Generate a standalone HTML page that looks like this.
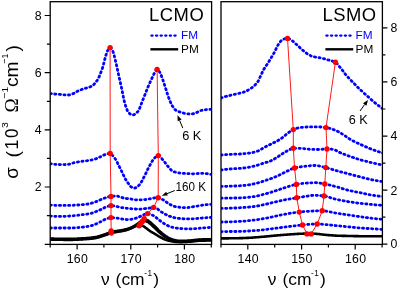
<!DOCTYPE html>
<html><head><meta charset="utf-8"><title>LCMO / LSMO optical conductivity</title>
<style>
html,body{margin:0;padding:0;background:#fff;}
body{width:399px;height:290px;overflow:hidden;font-family:"Liberation Sans",sans-serif;}
svg{display:block;will-change:transform;}
text{font-family:"Liberation Sans",sans-serif;fill:#000;}
.fm{fill:none;stroke:#0000ff;stroke-width:2.8;stroke-linecap:round;stroke-linejoin:round;stroke-dasharray:1.2 3.4;}
.pm{fill:none;stroke:#000;stroke-linecap:round;stroke-linejoin:round;}
.rl{fill:none;stroke:#ff0000;stroke-width:0.9;stroke-linejoin:round;}
.rd{fill:#ff0000;}
.ax{fill:none;stroke:#000;stroke-width:1.3;}
.tk{stroke:#000;stroke-width:1.2;fill:none;}
.tl{font-size:12.3px;letter-spacing:0.25px;}
.an{font-size:12px;}
.lg{font-size:11.8px;letter-spacing:0.1px;}
.ti{font-size:18.4px;letter-spacing:0.55px;}
.al{font-size:18px;}
.sup{font-size:9.8px;}
.xl{font-size:17.4px;}
</style></head><body>
<svg width="399" height="290" viewBox="0 0 399 290">
<rect x="0" y="0" width="399" height="290" fill="#fff"/>
<defs><clipPath id="cl"><rect x="50.2" y="1.7" width="161.39999999999998" height="242.70000000000002"/></clipPath>
<clipPath id="cr"><rect x="221.0" y="1.7" width="161.39999999999998" height="242.70000000000002"/></clipPath></defs>
<g clip-path="url(#cl)">
<polyline class="fm" points="50.2,93.5 50.7,93.6 51.2,93.6 51.7,93.7 52.2,93.8 52.7,93.8 53.2,93.9 53.7,93.9 54.2,94.0 54.7,94.0 55.2,94.1 55.7,94.1 56.2,94.1 56.7,94.1 57.2,94.2 57.7,94.2 58.2,94.2 58.7,94.3 59.2,94.3 59.7,94.4 60.2,94.4 60.7,94.5 61.2,94.5 61.7,94.6 62.2,94.6 62.7,94.7 63.2,94.7 63.7,94.8 64.2,94.8 64.7,94.8 65.2,94.9 65.7,94.9 66.2,94.9 66.7,95.0 67.2,95.0 67.7,95.0 68.2,95.0 68.7,95.0 69.2,95.0 69.7,94.9 70.2,94.8 70.7,94.6 71.2,94.5 71.7,94.3 72.2,94.0 72.7,93.8 73.2,93.6 73.7,93.4 74.2,93.2 74.7,92.9 75.2,92.6 75.7,92.3 76.2,92.0 76.7,91.7 77.2,91.4 77.7,91.1 78.2,90.9 78.7,90.7 79.2,90.5 79.7,90.3 80.2,90.1 80.7,89.9 81.2,89.7 81.7,89.5 82.2,89.3 82.7,89.1 83.2,89.0 83.7,88.8 84.2,88.7 84.7,88.5 85.2,88.4 85.7,88.2 86.2,88.1 86.7,87.9 87.2,87.7 87.7,87.6 88.2,87.4 88.7,87.3 89.2,87.1 89.7,87.0 90.2,86.8 90.7,86.6 91.2,86.4 91.7,86.2 92.2,85.9 92.7,85.5 93.2,85.1 93.7,84.7 94.2,84.1 94.7,83.6 95.2,83.0 95.7,82.4 96.2,81.7 96.7,81.0 97.2,80.3 97.7,79.4 98.2,78.6 98.7,77.6 99.2,76.6 99.7,75.4 100.2,74.1 100.7,72.8 101.2,71.5 101.7,70.2 102.2,68.9 102.7,67.4 103.2,65.6 103.7,63.7 104.2,61.7 104.7,59.6 105.2,57.7 105.7,55.9 106.2,54.4 106.7,53.0 107.2,51.6 107.7,50.5 108.2,49.7 108.7,48.9 109.2,48.2 109.7,47.7 110.2,47.6 110.7,47.9 111.2,48.4 111.7,49.1 112.2,50.0 112.7,50.9 113.2,52.1 113.7,53.7 114.2,55.6 114.7,57.6 115.2,59.7 115.7,61.8 116.2,63.8 116.7,66.0 117.2,68.3 117.7,70.6 118.2,72.9 118.7,75.2 119.2,77.4 119.7,79.7 120.2,81.9 120.7,84.1 121.2,86.3 121.7,88.6 122.2,91.0 122.7,93.6 123.2,96.2 123.7,98.7 124.2,100.8 124.7,102.8 125.2,104.5 125.7,106.1 126.2,107.5 126.7,108.9 127.2,110.2 127.7,111.3 128.2,112.1 128.7,112.7 129.2,113.2 129.7,113.6 130.2,114.0 130.7,114.4 131.2,114.6 131.7,114.8 132.2,115.0 132.7,115.0 133.2,114.9 133.7,114.8 134.2,114.6 134.7,114.3 135.2,114.0 135.7,113.6 136.2,113.1 136.7,112.7 137.2,112.2 137.7,111.7 138.2,111.1 138.7,110.3 139.2,109.2 139.7,108.1 140.2,106.9 140.7,105.6 141.2,104.2 141.7,102.9 142.2,101.5 142.7,100.3 143.2,99.1 143.7,97.8 144.2,96.6 144.7,95.3 145.2,94.0 145.7,92.7 146.2,91.4 146.7,90.1 147.2,88.9 147.7,87.7 148.2,86.5 148.7,85.4 149.2,84.2 149.7,83.1 150.2,82.0 150.7,80.9 151.2,79.8 151.7,78.7 152.2,77.7 152.7,76.6 153.2,75.5 153.7,74.5 154.2,73.4 154.7,72.5 155.2,71.7 155.7,70.9 156.2,70.1 156.7,69.6 157.2,69.4 157.7,69.6 158.2,70.1 158.7,70.7 159.2,71.4 159.7,72.1 160.2,73.1 160.7,74.2 161.2,75.4 161.7,76.6 162.2,78.0 162.7,79.4 163.2,80.9 163.7,82.4 164.2,84.0 164.7,85.6 165.2,87.1 165.7,88.6 166.2,90.1 166.7,91.7 167.2,93.3 167.7,94.8 168.2,96.3 168.7,97.7 169.2,99.0 169.7,100.3 170.2,101.5 170.7,102.7 171.2,103.8 171.7,104.8 172.2,105.7 172.7,106.5 173.2,107.2 173.7,107.9 174.2,108.6 174.7,109.2 175.2,109.7 175.7,110.1 176.2,110.4 176.7,110.7 177.2,111.0 177.7,111.2 178.2,111.4 178.7,111.6 179.2,111.8 179.7,111.9 180.2,112.1 180.7,112.3 181.2,112.4 181.7,112.6 182.2,112.7 182.7,112.9 183.2,113.0 183.7,113.1 184.2,113.3 184.7,113.3 185.2,113.4 185.7,113.5 186.2,113.6 186.7,113.7 187.2,113.7 187.7,113.8 188.2,113.9 188.7,113.9 189.2,114.0 189.7,114.0 190.2,114.0 190.7,114.0 191.2,114.0 191.7,113.9 192.2,113.9 192.7,113.8 193.2,113.7 193.7,113.7 194.2,113.6 194.7,113.5 195.2,113.4 195.7,113.2 196.2,112.9 196.7,112.6 197.2,112.3 197.7,112.0 198.2,111.6 198.7,111.4 199.2,111.1 199.7,110.9 200.2,110.8 200.7,110.6 201.2,110.5 201.7,110.4 202.2,110.2 202.7,110.1 203.2,110.0 203.7,109.9 204.2,109.9 204.7,109.8 205.2,109.8 205.7,109.7 206.2,109.6 206.7,109.6 207.2,109.6 207.7,109.5 208.2,109.5 208.7,109.4 209.2,109.4 209.7,109.4 210.2,109.4 210.7,109.3 211.2,109.3 211.6,109.3"/>
<polyline class="fm" points="50.2,163.6 50.7,163.7 51.2,163.8 51.7,163.9 52.2,164.0 52.7,164.0 53.2,164.1 53.7,164.2 54.2,164.2 54.7,164.3 55.2,164.3 55.7,164.4 56.2,164.4 56.7,164.4 57.2,164.5 57.7,164.5 58.2,164.5 58.7,164.5 59.2,164.5 59.7,164.6 60.2,164.6 60.7,164.6 61.2,164.6 61.7,164.6 62.2,164.6 62.7,164.6 63.2,164.6 63.7,164.6 64.2,164.6 64.7,164.6 65.2,164.5 65.7,164.5 66.2,164.5 66.7,164.5 67.2,164.4 67.7,164.4 68.2,164.4 68.7,164.3 69.2,164.2 69.7,164.1 70.2,163.9 70.7,163.7 71.2,163.6 71.7,163.4 72.2,163.2 72.7,163.1 73.2,163.0 73.7,162.8 74.2,162.7 74.7,162.6 75.2,162.5 75.7,162.4 76.2,162.3 76.7,162.2 77.2,162.1 77.7,162.0 78.2,161.9 78.7,161.8 79.2,161.7 79.7,161.6 80.2,161.6 80.7,161.5 81.2,161.4 81.7,161.4 82.2,161.3 82.7,161.2 83.2,161.2 83.7,161.1 84.2,161.1 84.7,161.0 85.2,161.0 85.7,160.9 86.2,160.8 86.7,160.8 87.2,160.7 87.7,160.6 88.2,160.6 88.7,160.5 89.2,160.4 89.7,160.3 90.2,160.2 90.7,160.1 91.2,160.0 91.7,159.9 92.2,159.8 92.7,159.7 93.2,159.6 93.7,159.5 94.2,159.3 94.7,159.2 95.2,159.0 95.7,158.9 96.2,158.7 96.7,158.5 97.2,158.3 97.7,158.0 98.2,157.8 98.7,157.6 99.2,157.4 99.7,157.1 100.2,156.9 100.7,156.7 101.2,156.4 101.7,156.1 102.2,155.9 102.7,155.6 103.2,155.4 103.7,155.1 104.2,154.9 104.7,154.7 105.2,154.5 105.7,154.3 106.2,154.1 106.7,153.9 107.2,153.8 107.7,153.7 108.2,153.6 108.7,153.5 109.2,153.4 109.7,153.4 110.2,153.4 110.7,153.6 111.2,154.0 111.7,154.5 112.2,155.1 112.7,155.7 113.2,156.2 113.7,156.8 114.2,157.4 114.7,158.1 115.2,158.8 115.7,159.5 116.2,160.3 116.7,161.3 117.2,162.3 117.7,163.4 118.2,164.4 118.7,165.4 119.2,166.4 119.7,167.4 120.2,168.4 120.7,169.4 121.2,170.4 121.7,171.4 122.2,172.5 122.7,173.5 123.2,174.6 123.7,175.6 124.2,176.6 124.7,177.6 125.2,178.6 125.7,179.5 126.2,180.3 126.7,181.1 127.2,181.9 127.7,182.6 128.2,183.3 128.7,184.0 129.2,184.7 129.7,185.4 130.2,186.1 130.7,186.6 131.2,186.9 131.7,187.3 132.2,187.6 132.7,187.9 133.2,188.1 133.7,188.2 134.2,188.2 134.7,188.1 135.2,187.9 135.7,187.7 136.2,187.5 136.7,187.2 137.2,186.9 137.7,186.5 138.2,186.1 138.7,185.5 139.2,185.0 139.7,184.4 140.2,183.7 140.7,183.0 141.2,182.2 141.7,181.4 142.2,180.5 142.7,179.5 143.2,178.5 143.7,177.5 144.2,176.6 144.7,175.6 145.2,174.6 145.7,173.6 146.2,172.6 146.7,171.6 147.2,170.5 147.7,169.5 148.2,168.4 148.7,167.4 149.2,166.4 149.7,165.5 150.2,164.7 150.7,163.8 151.2,162.9 151.7,162.1 152.2,161.2 152.7,160.4 153.2,159.7 153.7,159.0 154.2,158.4 154.7,157.9 155.2,157.4 155.7,157.0 156.2,156.6 156.7,156.2 157.2,155.9 157.7,155.7 158.2,155.6 158.7,155.7 159.2,155.9 159.7,156.2 160.2,156.7 160.7,157.2 161.2,157.8 161.7,158.4 162.2,159.1 162.7,159.7 163.2,160.2 163.7,160.8 164.2,161.4 164.7,162.1 165.2,162.8 165.7,163.5 166.2,164.1 166.7,164.8 167.2,165.4 167.7,166.1 168.2,166.6 168.7,167.2 169.2,167.8 169.7,168.4 170.2,169.0 170.7,169.6 171.2,170.1 171.7,170.5 172.2,171.0 172.7,171.3 173.2,171.5 173.7,171.7 174.2,171.8 174.7,172.0 175.2,172.1 175.7,172.2 176.2,172.4 176.7,172.5 177.2,172.6 177.7,172.7 178.2,172.8 178.7,172.9 179.2,172.9 179.7,173.0 180.2,173.1 180.7,173.1 181.2,173.2 181.7,173.2 182.2,173.3 182.7,173.3 183.2,173.4 183.7,173.4 184.2,173.4 184.7,173.5 185.2,173.5 185.7,173.5 186.2,173.6 186.7,173.6 187.2,173.6 187.7,173.7 188.2,173.7 188.7,173.7 189.2,173.7 189.7,173.7 190.2,173.8 190.7,173.8 191.2,173.8 191.7,173.8 192.2,173.8 192.7,173.8 193.2,173.8 193.7,173.8 194.2,173.8 194.7,173.8 195.2,173.7 195.7,173.7 196.2,173.7 196.7,173.6 197.2,173.6 197.7,173.5 198.2,173.5 198.7,173.5 199.2,173.4 199.7,173.4 200.2,173.4 200.7,173.3 201.2,173.3 201.7,173.3 202.2,173.3 202.7,173.3 203.2,173.3 203.7,173.3 204.2,173.4 204.7,173.4 205.2,173.5 205.7,173.5 206.2,173.6 206.7,173.7 207.2,173.7 207.7,173.8 208.2,173.9 208.7,174.0 209.2,174.1 209.7,174.2 210.2,174.3 210.7,174.4 211.2,174.5 211.6,174.6"/>
<polyline class="fm" points="50.2,205.0 50.7,205.0 51.2,205.1 51.7,205.1 52.2,205.1 52.7,205.2 53.2,205.2 53.7,205.2 54.2,205.3 54.7,205.3 55.2,205.3 55.7,205.4 56.2,205.4 56.7,205.4 57.2,205.4 57.7,205.4 58.2,205.4 58.7,205.4 59.2,205.4 59.7,205.4 60.2,205.4 60.7,205.4 61.2,205.4 61.7,205.4 62.2,205.4 62.7,205.4 63.2,205.4 63.7,205.4 64.2,205.4 64.7,205.4 65.2,205.4 65.7,205.4 66.2,205.4 66.7,205.4 67.2,205.4 67.7,205.4 68.2,205.4 68.7,205.4 69.2,205.4 69.7,205.4 70.2,205.4 70.7,205.4 71.2,205.3 71.7,205.3 72.2,205.3 72.7,205.3 73.2,205.3 73.7,205.2 74.2,205.2 74.7,205.2 75.2,205.2 75.7,205.1 76.2,205.1 76.7,205.1 77.2,205.0 77.7,205.0 78.2,205.0 78.7,205.0 79.2,204.9 79.7,204.9 80.2,204.9 80.7,204.8 81.2,204.8 81.7,204.7 82.2,204.7 82.7,204.6 83.2,204.6 83.7,204.5 84.2,204.5 84.7,204.4 85.2,204.4 85.7,204.3 86.2,204.3 86.7,204.2 87.2,204.1 87.7,204.0 88.2,204.0 88.7,203.9 89.2,203.8 89.7,203.7 90.2,203.5 90.7,203.4 91.2,203.3 91.7,203.1 92.2,203.0 92.7,202.8 93.2,202.7 93.7,202.5 94.2,202.3 94.7,202.2 95.2,202.0 95.7,201.8 96.2,201.6 96.7,201.4 97.2,201.2 97.7,201.0 98.2,200.8 98.7,200.5 99.2,200.3 99.7,200.1 100.2,199.9 100.7,199.7 101.2,199.5 101.7,199.3 102.2,199.1 102.7,198.9 103.2,198.6 103.7,198.4 104.2,198.2 104.7,198.0 105.2,197.9 105.7,197.7 106.2,197.5 106.7,197.4 107.2,197.2 107.7,197.1 108.2,197.0 108.7,196.8 109.2,196.7 109.7,196.6 110.2,196.5 110.7,196.4 111.2,196.4 111.7,196.3 112.2,196.3 112.7,196.2 113.2,196.2 113.7,196.1 114.2,196.1 114.7,196.0 115.2,196.0 115.7,196.0 116.2,196.0 116.7,196.0 117.2,196.1 117.7,196.2 118.2,196.3 118.7,196.5 119.2,196.6 119.7,196.7 120.2,196.9 120.7,197.0 121.2,197.2 121.7,197.4 122.2,197.6 122.7,197.7 123.2,197.9 123.7,198.1 124.2,198.2 124.7,198.4 125.2,198.4 125.7,198.5 126.2,198.5 126.7,198.6 127.2,198.6 127.7,198.6 128.2,198.7 128.7,198.7 129.2,198.7 129.7,198.8 130.2,198.8 130.7,198.9 131.2,199.0 131.7,199.2 132.2,199.3 132.7,199.4 133.2,199.6 133.7,199.7 134.2,199.7 134.7,199.8 135.2,199.8 135.7,199.8 136.2,199.8 136.7,199.8 137.2,199.8 137.7,199.8 138.2,199.8 138.7,199.8 139.2,199.8 139.7,199.8 140.2,199.8 140.7,199.8 141.2,199.8 141.7,199.8 142.2,199.8 142.7,199.7 143.2,199.7 143.7,199.7 144.2,199.6 144.7,199.6 145.2,199.6 145.7,199.5 146.2,199.5 146.7,199.4 147.2,199.3 147.7,199.2 148.2,199.1 148.7,199.0 149.2,198.9 149.7,198.9 150.2,198.8 150.7,198.7 151.2,198.5 151.7,198.4 152.2,198.3 152.7,198.2 153.2,198.1 153.7,198.0 154.2,198.0 154.7,197.9 155.2,197.9 155.7,197.8 156.2,197.8 156.7,197.8 157.2,197.7 157.7,197.7 158.2,197.7 158.7,197.7 159.2,197.8 159.7,198.0 160.2,198.2 160.7,198.4 161.2,198.7 161.7,199.0 162.2,199.3 162.7,199.6 163.2,199.9 163.7,200.2 164.2,200.5 164.7,200.8 165.2,201.2 165.7,201.6 166.2,202.0 166.7,202.3 167.2,202.7 167.7,203.1 168.2,203.5 168.7,203.8 169.2,204.1 169.7,204.3 170.2,204.6 170.7,204.8 171.2,205.1 171.7,205.3 172.2,205.5 172.7,205.7 173.2,205.9 173.7,206.1 174.2,206.3 174.7,206.4 175.2,206.6 175.7,206.7 176.2,206.8 176.7,206.9 177.2,206.9 177.7,207.0 178.2,207.1 178.7,207.2 179.2,207.2 179.7,207.3 180.2,207.4 180.7,207.4 181.2,207.5 181.7,207.5 182.2,207.6 182.7,207.6 183.2,207.6 183.7,207.7 184.2,207.7 184.7,207.7 185.2,207.7 185.7,207.7 186.2,207.7 186.7,207.7 187.2,207.6 187.7,207.6 188.2,207.5 188.7,207.5 189.2,207.4 189.7,207.3 190.2,207.2 190.7,207.1 191.2,207.1 191.7,207.0 192.2,206.9 192.7,206.8 193.2,206.7 193.7,206.6 194.2,206.5 194.7,206.5 195.2,206.4 195.7,206.3 196.2,206.2 196.7,206.1 197.2,206.1 197.7,206.0 198.2,205.9 198.7,205.8 199.2,205.7 199.7,205.6 200.2,205.5 200.7,205.4 201.2,205.4 201.7,205.3 202.2,205.2 202.7,205.1 203.2,205.1 203.7,205.0 204.2,204.9 204.7,204.9 205.2,204.8 205.7,204.8 206.2,204.7 206.7,204.6 207.2,204.6 207.7,204.5 208.2,204.5 208.7,204.4 209.2,204.4 209.7,204.3 210.2,204.3 210.7,204.3 211.2,204.2 211.6,204.2"/>
<polyline class="fm" points="50.2,216.0 50.7,216.0 51.2,216.1 51.7,216.1 52.2,216.1 52.7,216.2 53.2,216.2 53.7,216.2 54.2,216.3 54.7,216.3 55.2,216.3 55.7,216.3 56.2,216.3 56.7,216.4 57.2,216.4 57.7,216.4 58.2,216.4 58.7,216.4 59.2,216.4 59.7,216.4 60.2,216.4 60.7,216.4 61.2,216.4 61.7,216.4 62.2,216.4 62.7,216.4 63.2,216.3 63.7,216.3 64.2,216.3 64.7,216.3 65.2,216.3 65.7,216.2 66.2,216.2 66.7,216.2 67.2,216.2 67.7,216.1 68.2,216.1 68.7,216.1 69.2,216.0 69.7,216.0 70.2,216.0 70.7,216.0 71.2,215.9 71.7,215.9 72.2,215.8 72.7,215.8 73.2,215.8 73.7,215.7 74.2,215.7 74.7,215.6 75.2,215.6 75.7,215.5 76.2,215.4 76.7,215.4 77.2,215.3 77.7,215.3 78.2,215.2 78.7,215.2 79.2,215.1 79.7,215.0 80.2,215.0 80.7,214.9 81.2,214.9 81.7,214.8 82.2,214.7 82.7,214.7 83.2,214.6 83.7,214.6 84.2,214.5 84.7,214.4 85.2,214.4 85.7,214.3 86.2,214.2 86.7,214.2 87.2,214.1 87.7,214.0 88.2,213.9 88.7,213.8 89.2,213.8 89.7,213.7 90.2,213.6 90.7,213.4 91.2,213.3 91.7,213.2 92.2,213.0 92.7,212.8 93.2,212.7 93.7,212.5 94.2,212.3 94.7,212.1 95.2,211.9 95.7,211.7 96.2,211.5 96.7,211.3 97.2,211.1 97.7,210.9 98.2,210.7 98.7,210.5 99.2,210.3 99.7,210.1 100.2,209.8 100.7,209.6 101.2,209.4 101.7,209.1 102.2,208.9 102.7,208.7 103.2,208.4 103.7,208.1 104.2,207.8 104.7,207.6 105.2,207.3 105.7,207.1 106.2,206.9 106.7,206.7 107.2,206.5 107.7,206.4 108.2,206.2 108.7,206.0 109.2,205.9 109.7,205.7 110.2,205.7 110.7,205.6 111.2,205.6 111.7,205.6 112.2,205.7 112.7,205.7 113.2,205.8 113.7,205.9 114.2,206.0 114.7,206.1 115.2,206.2 115.7,206.3 116.2,206.4 116.7,206.5 117.2,206.6 117.7,206.7 118.2,206.8 118.7,206.9 119.2,207.1 119.7,207.2 120.2,207.3 120.7,207.4 121.2,207.5 121.7,207.6 122.2,207.6 122.7,207.7 123.2,207.8 123.7,207.9 124.2,207.9 124.7,208.0 125.2,208.1 125.7,208.1 126.2,208.2 126.7,208.3 127.2,208.3 127.7,208.4 128.2,208.4 128.7,208.5 129.2,208.5 129.7,208.6 130.2,208.6 130.7,208.7 131.2,208.7 131.7,208.8 132.2,208.8 132.7,208.8 133.2,208.9 133.7,208.9 134.2,209.0 134.7,209.0 135.2,209.0 135.7,209.0 136.2,209.1 136.7,209.1 137.2,209.1 137.7,209.1 138.2,209.2 138.7,209.2 139.2,209.2 139.7,209.2 140.2,209.2 140.7,209.2 141.2,209.1 141.7,209.1 142.2,209.0 142.7,208.9 143.2,208.9 143.7,208.8 144.2,208.7 144.7,208.6 145.2,208.6 145.7,208.5 146.2,208.5 146.7,208.4 147.2,208.3 147.7,208.3 148.2,208.2 148.7,208.2 149.2,208.1 149.7,208.0 150.2,208.0 150.7,207.9 151.2,207.8 151.7,207.7 152.2,207.6 152.7,207.5 153.2,207.4 153.7,207.4 154.2,207.5 154.7,207.6 155.2,207.8 155.7,208.0 156.2,208.2 156.7,208.5 157.2,208.7 157.7,209.0 158.2,209.5 158.7,209.9 159.2,210.4 159.7,210.8 160.2,211.1 160.7,211.5 161.2,211.8 161.7,212.1 162.2,212.4 162.7,212.7 163.2,213.0 163.7,213.3 164.2,213.6 164.7,213.9 165.2,214.2 165.7,214.5 166.2,214.7 166.7,215.0 167.2,215.2 167.7,215.5 168.2,215.7 168.7,215.9 169.2,216.1 169.7,216.3 170.2,216.4 170.7,216.6 171.2,216.8 171.7,216.9 172.2,217.1 172.7,217.2 173.2,217.3 173.7,217.5 174.2,217.6 174.7,217.7 175.2,217.8 175.7,217.9 176.2,218.0 176.7,218.1 177.2,218.2 177.7,218.3 178.2,218.3 178.7,218.4 179.2,218.4 179.7,218.5 180.2,218.5 180.7,218.6 181.2,218.6 181.7,218.7 182.2,218.7 182.7,218.7 183.2,218.8 183.7,218.8 184.2,218.8 184.7,218.9 185.2,218.9 185.7,218.9 186.2,218.9 186.7,218.9 187.2,218.9 187.7,218.9 188.2,218.9 188.7,218.9 189.2,218.9 189.7,218.9 190.2,218.9 190.7,218.9 191.2,218.8 191.7,218.8 192.2,218.8 192.7,218.8 193.2,218.8 193.7,218.8 194.2,218.7 194.7,218.7 195.2,218.7 195.7,218.6 196.2,218.6 196.7,218.5 197.2,218.5 197.7,218.4 198.2,218.4 198.7,218.3 199.2,218.3 199.7,218.2 200.2,218.2 200.7,218.1 201.2,218.1 201.7,218.1 202.2,218.0 202.7,218.0 203.2,218.0 203.7,217.9 204.2,217.9 204.7,217.9 205.2,217.8 205.7,217.8 206.2,217.7 206.7,217.7 207.2,217.7 207.7,217.6 208.2,217.6 208.7,217.6 209.2,217.5 209.7,217.5 210.2,217.5 210.7,217.5 211.2,217.4 211.6,217.4"/>
<polyline class="fm" points="50.2,228.0 50.7,228.0 51.2,228.0 51.7,228.0 52.2,228.0 52.7,228.0 53.2,228.0 53.7,228.0 54.2,228.0 54.7,228.0 55.2,228.0 55.7,228.0 56.2,228.0 56.7,228.0 57.2,228.0 57.7,228.0 58.2,228.0 58.7,228.0 59.2,228.0 59.7,228.0 60.2,228.0 60.7,228.0 61.2,228.0 61.7,228.0 62.2,228.0 62.7,228.0 63.2,228.0 63.7,228.0 64.2,228.0 64.7,228.0 65.2,228.0 65.7,228.0 66.2,228.0 66.7,228.0 67.2,228.0 67.7,228.0 68.2,228.0 68.7,228.0 69.2,228.0 69.7,228.0 70.2,228.0 70.7,228.0 71.2,228.0 71.7,228.0 72.2,228.0 72.7,227.9 73.2,227.9 73.7,227.9 74.2,227.9 74.7,227.8 75.2,227.8 75.7,227.8 76.2,227.7 76.7,227.7 77.2,227.6 77.7,227.6 78.2,227.6 78.7,227.5 79.2,227.5 79.7,227.4 80.2,227.4 80.7,227.3 81.2,227.3 81.7,227.2 82.2,227.2 82.7,227.1 83.2,227.1 83.7,227.0 84.2,227.0 84.7,226.9 85.2,226.8 85.7,226.8 86.2,226.7 86.7,226.6 87.2,226.5 87.7,226.4 88.2,226.3 88.7,226.3 89.2,226.2 89.7,226.1 90.2,226.0 90.7,225.8 91.2,225.7 91.7,225.6 92.2,225.4 92.7,225.3 93.2,225.1 93.7,224.9 94.2,224.7 94.7,224.5 95.2,224.3 95.7,224.1 96.2,223.9 96.7,223.7 97.2,223.5 97.7,223.2 98.2,223.0 98.7,222.7 99.2,222.5 99.7,222.2 100.2,221.9 100.7,221.7 101.2,221.4 101.7,221.2 102.2,220.9 102.7,220.6 103.2,220.4 103.7,220.1 104.2,219.8 104.7,219.6 105.2,219.3 105.7,219.1 106.2,218.9 106.7,218.7 107.2,218.5 107.7,218.4 108.2,218.2 108.7,218.0 109.2,217.9 109.7,217.7 110.2,217.7 110.7,217.6 111.2,217.6 111.7,217.6 112.2,217.6 112.7,217.7 113.2,217.7 113.7,217.8 114.2,217.8 114.7,217.9 115.2,217.9 115.7,218.0 116.2,218.0 116.7,218.1 117.2,218.2 117.7,218.2 118.2,218.3 118.7,218.4 119.2,218.5 119.7,218.6 120.2,218.7 120.7,218.8 121.2,218.9 121.7,219.0 122.2,219.0 122.7,219.1 123.2,219.2 123.7,219.2 124.2,219.3 124.7,219.4 125.2,219.4 125.7,219.5 126.2,219.5 126.7,219.6 127.2,219.6 127.7,219.6 128.2,219.6 128.7,219.6 129.2,219.6 129.7,219.5 130.2,219.4 130.7,219.4 131.2,219.3 131.7,219.2 132.2,219.1 132.7,219.1 133.2,219.0 133.7,218.9 134.2,218.7 134.7,218.6 135.2,218.4 135.7,218.3 136.2,218.1 136.7,217.9 137.2,217.7 137.7,217.5 138.2,217.3 138.7,217.1 139.2,216.9 139.7,216.6 140.2,216.4 140.7,216.1 141.2,215.9 141.7,215.6 142.2,215.4 142.7,215.1 143.2,214.9 143.7,214.7 144.2,214.5 144.7,214.3 145.2,214.2 145.7,214.0 146.2,213.8 146.7,213.7 147.2,213.6 147.7,213.6 148.2,213.6 148.7,213.7 149.2,213.9 149.7,214.0 150.2,214.2 150.7,214.4 151.2,214.6 151.7,214.8 152.2,215.0 152.7,215.3 153.2,215.5 153.7,215.8 154.2,216.1 154.7,216.5 155.2,216.8 155.7,217.2 156.2,217.6 156.7,218.0 157.2,218.4 157.7,218.9 158.2,219.3 158.7,219.7 159.2,220.1 159.7,220.5 160.2,220.8 160.7,221.2 161.2,221.6 161.7,221.9 162.2,222.3 162.7,222.6 163.2,223.0 163.7,223.3 164.2,223.7 164.7,224.0 165.2,224.3 165.7,224.5 166.2,224.8 166.7,225.1 167.2,225.3 167.7,225.6 168.2,225.8 168.7,226.0 169.2,226.2 169.7,226.4 170.2,226.6 170.7,226.8 171.2,227.0 171.7,227.1 172.2,227.2 172.7,227.4 173.2,227.5 173.7,227.6 174.2,227.7 174.7,227.8 175.2,227.9 175.7,228.0 176.2,228.1 176.7,228.1 177.2,228.2 177.7,228.3 178.2,228.3 178.7,228.4 179.2,228.4 179.7,228.5 180.2,228.5 180.7,228.5 181.2,228.6 181.7,228.6 182.2,228.6 182.7,228.7 183.2,228.7 183.7,228.7 184.2,228.7 184.7,228.8 185.2,228.8 185.7,228.8 186.2,228.8 186.7,228.8 187.2,228.9 187.7,228.9 188.2,228.9 188.7,228.9 189.2,228.9 189.7,228.9 190.2,228.9 190.7,228.9 191.2,228.9 191.7,228.9 192.2,228.8 192.7,228.8 193.2,228.8 193.7,228.7 194.2,228.7 194.7,228.7 195.2,228.6 195.7,228.6 196.2,228.5 196.7,228.5 197.2,228.4 197.7,228.4 198.2,228.3 198.7,228.3 199.2,228.3 199.7,228.2 200.2,228.2 200.7,228.1 201.2,228.1 201.7,228.1 202.2,228.0 202.7,228.0 203.2,228.0 203.7,227.9 204.2,227.9 204.7,227.8 205.2,227.8 205.7,227.8 206.2,227.7 206.7,227.7 207.2,227.7 207.7,227.6 208.2,227.6 208.7,227.5 209.2,227.5 209.7,227.5 210.2,227.4 210.7,227.4 211.2,227.3 211.6,227.3"/>
<polyline class="pm" stroke-width="2.6" points="50.2,238.5 50.7,238.5 51.2,238.5 51.7,238.6 52.2,238.6 52.7,238.6 53.2,238.6 53.7,238.6 54.2,238.7 54.7,238.7 55.2,238.7 55.7,238.7 56.2,238.7 56.7,238.7 57.2,238.7 57.7,238.8 58.2,238.8 58.7,238.8 59.2,238.8 59.7,238.8 60.2,238.8 60.7,238.8 61.2,238.8 61.7,238.8 62.2,238.8 62.7,238.8 63.2,238.8 63.7,238.9 64.2,238.9 64.7,238.9 65.2,238.9 65.7,238.9 66.2,238.9 66.7,238.9 67.2,238.9 67.7,238.9 68.2,238.9 68.7,238.9 69.2,238.9 69.7,238.9 70.2,238.9 70.7,238.9 71.2,238.9 71.7,238.9 72.2,238.9 72.7,238.9 73.2,238.8 73.7,238.8 74.2,238.8 74.7,238.8 75.2,238.8 75.7,238.7 76.2,238.7 76.7,238.7 77.2,238.7 77.7,238.6 78.2,238.6 78.7,238.6 79.2,238.5 79.7,238.5 80.2,238.5 80.7,238.5 81.2,238.4 81.7,238.4 82.2,238.4 82.7,238.4 83.2,238.3 83.7,238.3 84.2,238.3 84.7,238.2 85.2,238.2 85.7,238.2 86.2,238.1 86.7,238.1 87.2,238.0 87.7,238.0 88.2,238.0 88.7,237.9 89.2,237.9 89.7,237.8 90.2,237.8 90.7,237.7 91.2,237.7 91.7,237.6 92.2,237.6 92.7,237.5 93.2,237.4 93.7,237.4 94.2,237.3 94.7,237.2 95.2,237.1 95.7,237.1 96.2,237.0 96.7,236.9 97.2,236.7 97.7,236.6 98.2,236.5 98.7,236.3 99.2,236.2 99.7,236.0 100.2,235.9 100.7,235.7 101.2,235.6 101.7,235.4 102.2,235.2 102.7,235.1 103.2,234.9 103.7,234.7 104.2,234.6 104.7,234.4 105.2,234.2 105.7,234.0 106.2,233.9 106.7,233.7 107.2,233.5 107.7,233.3 108.2,233.1 108.7,232.9 109.2,232.7 109.7,232.5 110.2,232.3 110.7,232.1 111.2,231.9 111.7,231.8 112.2,231.7 112.7,231.6 113.2,231.5 113.7,231.5 114.2,231.4 114.7,231.3 115.2,231.2 115.7,231.1 116.2,231.1 116.7,231.0 117.2,230.9 117.7,230.8 118.2,230.8 118.7,230.7 119.2,230.6 119.7,230.5 120.2,230.5 120.7,230.4 121.2,230.3 121.7,230.2 122.2,230.1 122.7,230.0 123.2,229.9 123.7,229.8 124.2,229.7 124.7,229.6 125.2,229.5 125.7,229.3 126.2,229.2 126.7,229.1 127.2,228.9 127.7,228.8 128.2,228.6 128.7,228.5 129.2,228.3 129.7,228.1 130.2,227.9 130.7,227.7 131.2,227.5 131.7,227.3 132.2,227.0 132.7,226.8 133.2,226.5 133.7,226.2 134.2,226.0 134.7,225.7 135.2,225.4 135.7,225.1 136.2,224.7 136.7,224.4 137.2,224.1 137.7,223.7 138.2,223.3 138.7,223.0 139.2,222.6 139.7,222.2 140.2,221.8 140.7,221.4 141.2,221.0 141.7,220.6 142.2,220.2 142.7,219.9 143.2,219.8 143.7,219.6 144.2,219.6 144.7,219.5 145.2,219.5 145.7,219.6 146.2,219.7 146.7,219.9 147.2,220.1 147.7,220.3 148.2,220.6 148.7,221.0 149.2,221.4 149.7,221.8 150.2,222.2 150.7,222.6 151.2,223.0 151.7,223.4 152.2,223.9 152.7,224.3 153.2,224.8 153.7,225.3 154.2,225.7 154.7,226.2 155.2,226.7 155.7,227.2 156.2,227.7 156.7,228.2 157.2,228.7 157.7,229.2 158.2,229.8 158.7,230.3 159.2,230.8 159.7,231.2 160.2,231.7 160.7,232.1 161.2,232.5 161.7,233.0 162.2,233.4 162.7,233.8 163.2,234.2 163.7,234.6 164.2,234.9 164.7,235.3 165.2,235.6 165.7,236.0 166.2,236.3 166.7,236.6 167.2,237.0 167.7,237.3 168.2,237.6 168.7,237.9 169.2,238.1 169.7,238.4 170.2,238.6 170.7,238.8 171.2,239.0 171.7,239.2 172.2,239.4 172.7,239.6 173.2,239.7 173.7,239.9 174.2,240.0 174.7,240.1 175.2,240.2 175.7,240.3 176.2,240.4 176.7,240.5 177.2,240.6 177.7,240.7 178.2,240.8 178.7,240.8 179.2,240.9 179.7,240.9 180.2,240.9 180.7,240.9 181.2,240.9 181.7,240.9 182.2,240.9 182.7,240.9 183.2,240.8 183.7,240.8 184.2,240.8 184.7,240.8 185.2,240.8 185.7,240.7 186.2,240.7 186.7,240.7 187.2,240.7 187.7,240.6 188.2,240.6 188.7,240.6 189.2,240.5 189.7,240.5 190.2,240.5 190.7,240.5 191.2,240.4 191.7,240.4 192.2,240.3 192.7,240.3 193.2,240.2 193.7,240.1 194.2,240.1 194.7,240.0 195.2,239.9 195.7,239.9 196.2,239.8 196.7,239.8 197.2,239.7 197.7,239.7 198.2,239.6 198.7,239.6 199.2,239.5 199.7,239.5 200.2,239.5 200.7,239.5 201.2,239.5 201.7,239.5 202.2,239.4 202.7,239.4 203.2,239.4 203.7,239.4 204.2,239.4 204.7,239.4 205.2,239.4 205.7,239.4 206.2,239.3 206.7,239.3 207.2,239.3 207.7,239.3 208.2,239.3 208.7,239.3 209.2,239.3 209.7,239.3 210.2,239.3 210.7,239.3 211.2,239.3 211.6,239.3"/>
<polyline class="pm" stroke-width="2.6" points="50.2,239.0 50.7,239.0 51.2,239.0 51.7,239.1 52.2,239.1 52.7,239.1 53.2,239.1 53.7,239.1 54.2,239.2 54.7,239.2 55.2,239.2 55.7,239.2 56.2,239.2 56.7,239.2 57.2,239.2 57.7,239.3 58.2,239.3 58.7,239.3 59.2,239.3 59.7,239.3 60.2,239.3 60.7,239.3 61.2,239.3 61.7,239.3 62.2,239.3 62.7,239.3 63.2,239.3 63.7,239.4 64.2,239.4 64.7,239.4 65.2,239.4 65.7,239.4 66.2,239.4 66.7,239.4 67.2,239.4 67.7,239.4 68.2,239.4 68.7,239.4 69.2,239.4 69.7,239.4 70.2,239.4 70.7,239.4 71.2,239.4 71.7,239.4 72.2,239.4 72.7,239.4 73.2,239.3 73.7,239.3 74.2,239.3 74.7,239.3 75.2,239.3 75.7,239.2 76.2,239.2 76.7,239.2 77.2,239.2 77.7,239.1 78.2,239.1 78.7,239.1 79.2,239.0 79.7,239.0 80.2,239.0 80.7,239.0 81.2,238.9 81.7,238.9 82.2,238.9 82.7,238.9 83.2,238.8 83.7,238.8 84.2,238.8 84.7,238.7 85.2,238.7 85.7,238.7 86.2,238.6 86.7,238.6 87.2,238.5 87.7,238.5 88.2,238.5 88.7,238.4 89.2,238.4 89.7,238.3 90.2,238.3 90.7,238.2 91.2,238.2 91.7,238.1 92.2,238.1 92.7,238.0 93.2,237.9 93.7,237.9 94.2,237.8 94.7,237.7 95.2,237.6 95.7,237.6 96.2,237.5 96.7,237.4 97.2,237.2 97.7,237.1 98.2,237.0 98.7,236.8 99.2,236.7 99.7,236.5 100.2,236.4 100.7,236.2 101.2,236.1 101.7,235.9 102.2,235.7 102.7,235.6 103.2,235.4 103.7,235.2 104.2,235.1 104.7,234.9 105.2,234.7 105.7,234.5 106.2,234.4 106.7,234.2 107.2,234.0 107.7,233.8 108.2,233.6 108.7,233.4 109.2,233.2 109.7,233.0 110.2,232.8 110.7,232.6 111.2,232.4 111.7,232.3 112.2,232.2 112.7,232.1 113.2,232.0 113.7,232.0 114.2,231.9 114.7,231.8 115.2,231.7 115.7,231.6 116.2,231.6 116.7,231.5 117.2,231.4 117.7,231.3 118.2,231.3 118.7,231.2 119.2,231.1 119.7,231.0 120.2,231.0 120.7,230.9 121.2,230.8 121.7,230.7 122.2,230.6 122.7,230.5 123.2,230.4 123.7,230.3 124.2,230.2 124.7,230.1 125.2,230.0 125.7,229.8 126.2,229.7 126.7,229.6 127.2,229.4 127.7,229.3 128.2,229.1 128.7,229.0 129.2,228.8 129.7,228.6 130.2,228.4 130.7,228.2 131.2,228.0 131.7,227.8 132.2,227.5 132.7,227.3 133.2,227.0 133.7,226.7 134.2,226.5 134.7,226.2 135.2,225.9 135.7,225.6 136.2,225.2 136.7,224.9 137.2,224.5 137.7,224.1 138.2,223.8 138.7,223.4 139.2,223.1 139.7,222.8 140.2,222.4 140.7,222.1 141.2,221.8 141.7,221.5 142.2,221.3 142.7,221.2 143.2,221.1 143.7,221.0 144.2,221.0 144.7,221.0 145.2,221.1 145.7,221.2 146.2,221.3 146.7,221.5 147.2,221.7 147.7,221.9 148.2,222.2 148.7,222.6 149.2,223.0 149.7,223.4 150.2,223.8 150.7,224.2 151.2,224.6 151.7,225.0 152.2,225.5 152.7,226.0 153.2,226.5 153.7,227.0 154.2,227.4 154.7,227.9 155.2,228.4 155.7,228.9 156.2,229.4 156.7,229.9 157.2,230.4 157.7,230.9 158.2,231.3 158.7,231.8 159.2,232.3 159.7,232.7 160.2,233.2 160.7,233.6 161.2,234.0 161.7,234.4 162.2,234.8 162.7,235.2 163.2,235.6 163.7,235.9 164.2,236.3 164.7,236.6 165.2,236.9 165.7,237.2 166.2,237.5 166.7,237.8 167.2,238.1 167.7,238.4 168.2,238.6 168.7,238.8 169.2,239.1 169.7,239.3 170.2,239.5 170.7,239.7 171.2,239.8 171.7,240.0 172.2,240.2 172.7,240.3 173.2,240.5 173.7,240.6 174.2,240.7 174.7,240.8 175.2,240.9 175.7,241.0 176.2,241.1 176.7,241.2 177.2,241.3 177.7,241.3 178.2,241.4 178.7,241.4 179.2,241.5 179.7,241.5 180.2,241.5 180.7,241.5 181.2,241.5 181.7,241.5 182.2,241.5 182.7,241.5 183.2,241.4 183.7,241.4 184.2,241.4 184.7,241.4 185.2,241.4 185.7,241.3 186.2,241.3 186.7,241.3 187.2,241.3 187.7,241.2 188.2,241.2 188.7,241.2 189.2,241.1 189.7,241.1 190.2,241.1 190.7,241.1 191.2,241.0 191.7,241.0 192.2,240.9 192.7,240.9 193.2,240.8 193.7,240.7 194.2,240.7 194.7,240.6 195.2,240.5 195.7,240.5 196.2,240.4 196.7,240.4 197.2,240.3 197.7,240.3 198.2,240.2 198.7,240.2 199.2,240.1 199.7,240.1 200.2,240.1 200.7,240.1 201.2,240.1 201.7,240.1 202.2,240.0 202.7,240.0 203.2,240.0 203.7,240.0 204.2,240.0 204.7,240.0 205.2,240.0 205.7,240.0 206.2,239.9 206.7,239.9 207.2,239.9 207.7,239.9 208.2,239.9 208.7,239.9 209.2,239.9 209.7,239.9 210.2,239.9 210.7,239.9 211.2,239.9 211.6,239.9"/>
<polyline class="pm" stroke-width="2.6" points="50.2,239.5 50.7,239.5 51.2,239.5 51.7,239.6 52.2,239.6 52.7,239.6 53.2,239.6 53.7,239.6 54.2,239.7 54.7,239.7 55.2,239.7 55.7,239.7 56.2,239.7 56.7,239.7 57.2,239.7 57.7,239.8 58.2,239.8 58.7,239.8 59.2,239.8 59.7,239.8 60.2,239.8 60.7,239.8 61.2,239.8 61.7,239.8 62.2,239.8 62.7,239.8 63.2,239.8 63.7,239.9 64.2,239.9 64.7,239.9 65.2,239.9 65.7,239.9 66.2,239.9 66.7,239.9 67.2,239.9 67.7,239.9 68.2,239.9 68.7,239.9 69.2,239.9 69.7,239.9 70.2,239.9 70.7,239.9 71.2,239.9 71.7,239.9 72.2,239.9 72.7,239.9 73.2,239.8 73.7,239.8 74.2,239.8 74.7,239.8 75.2,239.8 75.7,239.7 76.2,239.7 76.7,239.7 77.2,239.7 77.7,239.6 78.2,239.6 78.7,239.6 79.2,239.5 79.7,239.5 80.2,239.5 80.7,239.5 81.2,239.4 81.7,239.4 82.2,239.4 82.7,239.4 83.2,239.3 83.7,239.3 84.2,239.3 84.7,239.2 85.2,239.2 85.7,239.2 86.2,239.1 86.7,239.1 87.2,239.0 87.7,239.0 88.2,239.0 88.7,238.9 89.2,238.9 89.7,238.8 90.2,238.8 90.7,238.7 91.2,238.7 91.7,238.6 92.2,238.6 92.7,238.5 93.2,238.4 93.7,238.4 94.2,238.3 94.7,238.2 95.2,238.1 95.7,238.1 96.2,238.0 96.7,237.9 97.2,237.7 97.7,237.6 98.2,237.5 98.7,237.3 99.2,237.2 99.7,237.0 100.2,236.9 100.7,236.7 101.2,236.6 101.7,236.4 102.2,236.2 102.7,236.1 103.2,235.9 103.7,235.7 104.2,235.6 104.7,235.4 105.2,235.2 105.7,235.0 106.2,234.9 106.7,234.7 107.2,234.5 107.7,234.3 108.2,234.1 108.7,233.9 109.2,233.7 109.7,233.5 110.2,233.3 110.7,233.1 111.2,232.9 111.7,232.8 112.2,232.7 112.7,232.6 113.2,232.5 113.7,232.5 114.2,232.4 114.7,232.3 115.2,232.2 115.7,232.1 116.2,232.1 116.7,232.0 117.2,231.9 117.7,231.8 118.2,231.8 118.7,231.7 119.2,231.6 119.7,231.5 120.2,231.5 120.7,231.4 121.2,231.3 121.7,231.2 122.2,231.1 122.7,231.0 123.2,230.9 123.7,230.8 124.2,230.7 124.7,230.6 125.2,230.4 125.7,230.3 126.2,230.2 126.7,230.0 127.2,229.8 127.7,229.7 128.2,229.5 128.7,229.3 129.2,229.1 129.7,228.9 130.2,228.7 130.7,228.5 131.2,228.3 131.7,228.1 132.2,227.8 132.7,227.6 133.2,227.3 133.7,227.1 134.2,226.9 134.7,226.6 135.2,226.4 135.7,226.2 136.2,225.9 136.7,225.7 137.2,225.5 137.7,225.4 138.2,225.3 138.7,225.2 139.2,225.1 139.7,225.1 140.2,225.1 140.7,225.2 141.2,225.3 141.7,225.5 142.2,225.7 142.7,225.9 143.2,226.1 143.7,226.4 144.2,226.7 144.7,227.0 145.2,227.4 145.7,227.8 146.2,228.1 146.7,228.5 147.2,228.9 147.7,229.3 148.2,229.7 148.7,230.1 149.2,230.4 149.7,230.8 150.2,231.1 150.7,231.5 151.2,231.8 151.7,232.1 152.2,232.4 152.7,232.7 153.2,232.9 153.7,233.2 154.2,233.5 154.7,233.8 155.2,234.1 155.7,234.4 156.2,234.7 156.7,235.0 157.2,235.3 157.7,235.7 158.2,236.0 158.7,236.3 159.2,236.6 159.7,236.8 160.2,237.1 160.7,237.4 161.2,237.7 161.7,237.9 162.2,238.2 162.7,238.5 163.2,238.7 163.7,239.0 164.2,239.2 164.7,239.4 165.2,239.6 165.7,239.8 166.2,239.9 166.7,240.1 167.2,240.3 167.7,240.4 168.2,240.6 168.7,240.7 169.2,240.8 169.7,240.9 170.2,241.0 170.7,241.1 171.2,241.2 171.7,241.3 172.2,241.4 172.7,241.5 173.2,241.6 173.7,241.7 174.2,241.7 174.7,241.8 175.2,241.8 175.7,241.9 176.2,241.9 176.7,241.9 177.2,242.0 177.7,242.0 178.2,242.0 178.7,242.1 179.2,242.1 179.7,242.1 180.2,242.1 180.7,242.1 181.2,242.1 181.7,242.1 182.2,242.1 182.7,242.1 183.2,242.0 183.7,242.0 184.2,242.0 184.7,242.0 185.2,242.0 185.7,241.9 186.2,241.9 186.7,241.9 187.2,241.9 187.7,241.8 188.2,241.8 188.7,241.8 189.2,241.7 189.7,241.7 190.2,241.7 190.7,241.7 191.2,241.6 191.7,241.6 192.2,241.5 192.7,241.5 193.2,241.4 193.7,241.3 194.2,241.3 194.7,241.2 195.2,241.1 195.7,241.1 196.2,241.0 196.7,241.0 197.2,240.9 197.7,240.9 198.2,240.8 198.7,240.8 199.2,240.7 199.7,240.7 200.2,240.7 200.7,240.7 201.2,240.7 201.7,240.7 202.2,240.6 202.7,240.6 203.2,240.6 203.7,240.6 204.2,240.6 204.7,240.6 205.2,240.6 205.7,240.6 206.2,240.5 206.7,240.5 207.2,240.5 207.7,240.5 208.2,240.5 208.7,240.5 209.2,240.5 209.7,240.5 210.2,240.5 210.7,240.5 211.2,240.5 211.6,240.5"/>
</g>
<polyline class="rl" points="110.1,47.6 110.2,153.4 111.0,196.4 111.0,205.6 111.0,217.6 111.2,232.0"/>
<polyline class="rl" points="157.1,69.4 158.3,155.6 158.2,197.7 153.6,207.4 147.6,213.6 144.1,218.8 142.3,221.4 140.8,223.6 139.2,225.8"/>
<circle class="rd" cx="110.1" cy="47.6" r="2.7"/>
<circle class="rd" cx="110.2" cy="153.4" r="2.7"/>
<circle class="rd" cx="111" cy="196.4" r="2.7"/>
<circle class="rd" cx="111" cy="205.6" r="2.7"/>
<circle class="rd" cx="111" cy="217.6" r="2.7"/>
<circle class="rd" cx="111.2" cy="232" r="2.7"/>
<circle class="rd" cx="157.1" cy="69.4" r="2.7"/>
<circle class="rd" cx="158.3" cy="155.6" r="2.7"/>
<circle class="rd" cx="158.2" cy="197.7" r="2.7"/>
<circle class="rd" cx="153.6" cy="207.4" r="2.7"/>
<circle class="rd" cx="147.6" cy="213.6" r="2.7"/>
<circle class="rd" cx="144.1" cy="218.8" r="2.7"/>
<circle class="rd" cx="142.3" cy="221.4" r="2.7"/>
<circle class="rd" cx="140.8" cy="223.6" r="2.7"/>
<circle class="rd" cx="139.2" cy="225.8" r="2.7"/>
<circle class="rd" cx="111.2" cy="231.0" r="2.7"/>
<circle class="rd" cx="111.3" cy="233.0" r="2.7"/>
<g clip-path="url(#cr)">
<polyline class="fm" points="221.0,98.0 221.5,97.8 222.0,97.6 222.5,97.5 223.0,97.3 223.5,97.1 224.0,97.0 224.5,96.8 225.0,96.7 225.5,96.5 226.0,96.4 226.5,96.3 227.0,96.1 227.5,96.0 228.0,95.9 228.5,95.8 229.0,95.7 229.5,95.6 230.0,95.4 230.5,95.3 231.0,95.2 231.5,95.1 232.0,95.0 232.5,94.9 233.0,94.8 233.5,94.7 234.0,94.5 234.5,94.4 235.0,94.3 235.5,94.2 236.0,94.1 236.5,94.0 237.0,93.8 237.5,93.7 238.0,93.6 238.5,93.5 239.0,93.4 239.5,93.2 240.0,93.1 240.5,93.0 241.0,92.9 241.5,92.7 242.0,92.6 242.5,92.5 243.0,92.3 243.5,92.2 244.0,92.0 244.5,91.8 245.0,91.6 245.5,91.4 246.0,91.2 246.5,91.0 247.0,90.7 247.5,90.4 248.0,90.2 248.5,89.9 249.0,89.6 249.5,89.3 250.0,89.0 250.5,88.7 251.0,88.3 251.5,88.0 252.0,87.6 252.5,87.2 253.0,86.8 253.5,86.4 254.0,85.9 254.5,85.5 255.0,85.0 255.5,84.5 256.0,84.0 256.5,83.5 257.0,82.9 257.5,82.2 258.0,81.5 258.5,80.6 259.0,79.6 259.5,78.5 260.0,77.3 260.5,76.1 261.0,75.0 261.5,74.0 262.0,72.9 262.5,71.9 263.0,70.9 263.5,69.9 264.0,69.0 264.5,68.2 265.0,67.4 265.5,66.6 266.0,65.9 266.5,65.2 267.0,64.5 267.5,63.8 268.0,63.0 268.5,62.2 269.0,61.4 269.5,60.5 270.0,59.7 270.5,58.8 271.0,58.0 271.5,57.2 272.0,56.4 272.5,55.6 273.0,54.7 273.5,53.9 274.0,53.0 274.5,52.0 275.0,51.0 275.5,50.0 276.0,49.0 276.5,47.9 277.0,47.0 277.5,46.1 278.0,45.1 278.5,44.2 279.0,43.4 279.5,42.6 280.0,42.0 280.5,41.4 281.0,40.9 281.5,40.4 282.0,40.0 282.5,39.6 283.0,39.4 283.5,39.2 284.0,39.0 284.5,38.9 285.0,38.7 285.5,38.6 286.0,38.5 286.5,38.5 287.0,38.4 287.5,38.4 288.0,38.5 288.5,38.6 289.0,38.8 289.5,39.0 290.0,39.3 290.5,39.6 291.0,39.9 291.5,40.3 292.0,40.6 292.5,40.9 293.0,41.3 293.5,41.7 294.0,42.1 294.5,42.5 295.0,43.0 295.5,43.5 296.0,44.0 296.5,44.4 297.0,44.9 297.5,45.4 298.0,45.9 298.5,46.3 299.0,46.8 299.5,47.3 300.0,47.8 300.5,48.3 301.0,48.8 301.5,49.2 302.0,49.7 302.5,50.1 303.0,50.5 303.5,50.9 304.0,51.3 304.5,51.7 305.0,52.1 305.5,52.5 306.0,52.9 306.5,53.2 307.0,53.6 307.5,53.9 308.0,54.2 308.5,54.5 309.0,54.8 309.5,55.1 310.0,55.3 310.5,55.6 311.0,55.9 311.5,56.1 312.0,56.3 312.5,56.4 313.0,56.6 313.5,56.7 314.0,56.8 314.5,56.9 315.0,57.0 315.5,57.1 316.0,57.2 316.5,57.3 317.0,57.3 317.5,57.4 318.0,57.5 318.5,57.6 319.0,57.7 319.5,57.7 320.0,57.8 320.5,57.9 321.0,58.1 321.5,58.2 322.0,58.3 322.5,58.4 323.0,58.5 323.5,58.6 324.0,58.8 324.5,58.9 325.0,59.0 325.5,59.2 326.0,59.3 326.5,59.4 327.0,59.6 327.5,59.7 328.0,59.9 328.5,60.0 329.0,60.1 329.5,60.3 330.0,60.4 330.5,60.5 331.0,60.7 331.5,60.8 332.0,60.9 332.5,61.1 333.0,61.3 333.5,61.4 334.0,61.6 334.5,61.9 335.0,62.1 335.5,62.4 336.0,62.7 336.5,63.1 337.0,63.6 337.5,64.2 338.0,64.8 338.5,65.4 339.0,66.0 339.5,66.7 340.0,67.3 340.5,67.9 341.0,68.5 341.5,69.1 342.0,69.8 342.5,70.4 343.0,71.1 343.5,71.8 344.0,72.4 344.5,73.1 345.0,73.7 345.5,74.4 346.0,75.0 346.5,75.6 347.0,76.1 347.5,76.7 348.0,77.2 348.5,77.8 349.0,78.3 349.5,78.8 350.0,79.4 350.5,79.9 351.0,80.4 351.5,80.9 352.0,81.4 352.5,81.9 353.0,82.4 353.5,82.9 354.0,83.4 354.5,83.9 355.0,84.4 355.5,85.0 356.0,85.5 356.5,86.0 357.0,86.5 357.5,87.0 358.0,87.5 358.5,88.0 359.0,88.5 359.5,88.9 360.0,89.4 360.5,89.9 361.0,90.4 361.5,90.8 362.0,91.3 362.5,91.8 363.0,92.2 363.5,92.7 364.0,93.1 364.5,93.6 365.0,94.0 365.5,94.5 366.0,94.9 366.5,95.4 367.0,95.8 367.5,96.2 368.0,96.7 368.5,97.1 369.0,97.6 369.5,98.0 370.0,98.5 370.5,98.9 371.0,99.4 371.5,99.8 372.0,100.3 372.5,100.7 373.0,101.1 373.5,101.5 374.0,102.0 374.5,102.4 375.0,102.8 375.5,103.2 376.0,103.6 376.5,104.0 377.0,104.4 377.5,104.8 378.0,105.2 378.5,105.6 379.0,106.0 379.5,106.3 380.0,106.7 380.5,107.1 381.0,107.5 381.5,107.8 382.0,108.2 382.5,108.6 382.7,108.7"/>
<polyline class="fm" points="221.0,155.0 221.5,155.0 222.0,154.9 222.5,154.9 223.0,154.8 223.5,154.8 224.0,154.8 224.5,154.7 225.0,154.7 225.5,154.7 226.0,154.6 226.5,154.6 227.0,154.6 227.5,154.5 228.0,154.5 228.5,154.5 229.0,154.5 229.5,154.4 230.0,154.4 230.5,154.4 231.0,154.4 231.5,154.3 232.0,154.3 232.5,154.3 233.0,154.3 233.5,154.3 234.0,154.2 234.5,154.2 235.0,154.2 235.5,154.2 236.0,154.2 236.5,154.2 237.0,154.1 237.5,154.1 238.0,154.1 238.5,154.1 239.0,154.1 239.5,154.0 240.0,154.0 240.5,154.0 241.0,153.9 241.5,153.9 242.0,153.9 242.5,153.8 243.0,153.8 243.5,153.7 244.0,153.7 244.5,153.7 245.0,153.6 245.5,153.6 246.0,153.5 246.5,153.5 247.0,153.4 247.5,153.3 248.0,153.3 248.5,153.2 249.0,153.1 249.5,153.1 250.0,153.0 250.5,152.9 251.0,152.8 251.5,152.8 252.0,152.7 252.5,152.6 253.0,152.4 253.5,152.3 254.0,152.2 254.5,152.1 255.0,151.9 255.5,151.8 256.0,151.7 256.5,151.5 257.0,151.3 257.5,151.2 258.0,151.0 258.5,150.8 259.0,150.6 259.5,150.3 260.0,150.0 260.5,149.7 261.0,149.4 261.5,149.1 262.0,148.8 262.5,148.5 263.0,148.2 263.5,147.9 264.0,147.6 264.5,147.3 265.0,147.1 265.5,146.8 266.0,146.6 266.5,146.3 267.0,146.1 267.5,145.8 268.0,145.6 268.5,145.3 269.0,145.1 269.5,144.8 270.0,144.6 270.5,144.4 271.0,144.1 271.5,143.9 272.0,143.6 272.5,143.4 273.0,143.1 273.5,142.9 274.0,142.6 274.5,142.4 275.0,142.1 275.5,141.9 276.0,141.6 276.5,141.3 277.0,141.1 277.5,140.8 278.0,140.5 278.5,140.2 279.0,139.9 279.5,139.6 280.0,139.3 280.5,139.0 281.0,138.7 281.5,138.3 282.0,138.0 282.5,137.6 283.0,137.2 283.5,136.8 284.0,136.4 284.5,136.0 285.0,135.5 285.5,135.1 286.0,134.6 286.5,134.2 287.0,133.8 287.5,133.4 288.0,133.0 288.5,132.6 289.0,132.3 289.5,131.9 290.0,131.5 290.5,131.2 291.0,130.9 291.5,130.5 292.0,130.2 292.5,130.0 293.0,129.7 293.5,129.5 294.0,129.3 294.5,129.1 295.0,128.9 295.5,128.7 296.0,128.6 296.5,128.4 297.0,128.2 297.5,128.1 298.0,128.0 298.5,127.9 299.0,127.8 299.5,127.7 300.0,127.6 300.5,127.5 301.0,127.5 301.5,127.4 302.0,127.4 302.5,127.3 303.0,127.3 303.5,127.2 304.0,127.2 304.5,127.1 305.0,127.1 305.5,127.1 306.0,127.0 306.5,127.0 307.0,127.0 307.5,127.0 308.0,126.9 308.5,126.9 309.0,126.9 309.5,126.9 310.0,126.9 310.5,126.9 311.0,126.9 311.5,126.9 312.0,126.9 312.5,126.9 313.0,126.9 313.5,126.9 314.0,126.9 314.5,126.9 315.0,126.9 315.5,126.9 316.0,126.9 316.5,126.9 317.0,126.9 317.5,126.9 318.0,126.9 318.5,126.9 319.0,126.9 319.5,126.9 320.0,127.0 320.5,127.0 321.0,127.0 321.5,127.1 322.0,127.1 322.5,127.2 323.0,127.2 323.5,127.3 324.0,127.3 324.5,127.4 325.0,127.5 325.5,127.5 326.0,127.6 326.5,127.7 327.0,127.8 327.5,127.8 328.0,127.9 328.5,128.1 329.0,128.2 329.5,128.3 330.0,128.4 330.5,128.6 331.0,128.7 331.5,128.9 332.0,129.1 332.5,129.2 333.0,129.4 333.5,129.6 334.0,129.8 334.5,130.0 335.0,130.1 335.5,130.3 336.0,130.5 336.5,130.8 337.0,131.0 337.5,131.3 338.0,131.5 338.5,131.8 339.0,132.1 339.5,132.4 340.0,132.7 340.5,133.0 341.0,133.3 341.5,133.6 342.0,133.9 342.5,134.2 343.0,134.5 343.5,134.8 344.0,135.1 344.5,135.5 345.0,135.8 345.5,136.1 346.0,136.5 346.5,136.9 347.0,137.2 347.5,137.6 348.0,137.9 348.5,138.2 349.0,138.6 349.5,138.9 350.0,139.2 350.5,139.5 351.0,139.8 351.5,140.1 352.0,140.3 352.5,140.6 353.0,140.9 353.5,141.1 354.0,141.4 354.5,141.6 355.0,141.9 355.5,142.1 356.0,142.4 356.5,142.6 357.0,142.8 357.5,143.1 358.0,143.3 358.5,143.5 359.0,143.8 359.5,144.0 360.0,144.2 360.5,144.5 361.0,144.7 361.5,144.9 362.0,145.1 362.5,145.4 363.0,145.6 363.5,145.8 364.0,146.0 364.5,146.3 365.0,146.5 365.5,146.7 366.0,146.9 366.5,147.1 367.0,147.3 367.5,147.6 368.0,147.8 368.5,148.0 369.0,148.2 369.5,148.4 370.0,148.6 370.5,148.8 371.0,149.0 371.5,149.1 372.0,149.3 372.5,149.5 373.0,149.7 373.5,149.9 374.0,150.1 374.5,150.3 375.0,150.4 375.5,150.6 376.0,150.8 376.5,151.0 377.0,151.1 377.5,151.3 378.0,151.5 378.5,151.7 379.0,151.8 379.5,152.0 380.0,152.2 380.5,152.3 381.0,152.5 381.5,152.6 382.0,152.8 382.5,152.9 382.7,153.0"/>
<polyline class="fm" points="221.0,170.0 221.5,169.9 222.0,169.9 222.5,169.8 223.0,169.7 223.5,169.7 224.0,169.6 224.5,169.6 225.0,169.5 225.5,169.4 226.0,169.4 226.5,169.3 227.0,169.3 227.5,169.2 228.0,169.2 228.5,169.1 229.0,169.1 229.5,169.0 230.0,169.0 230.5,169.0 231.0,168.9 231.5,168.9 232.0,168.9 232.5,168.8 233.0,168.8 233.5,168.8 234.0,168.8 234.5,168.7 235.0,168.7 235.5,168.7 236.0,168.7 236.5,168.6 237.0,168.6 237.5,168.6 238.0,168.5 238.5,168.5 239.0,168.5 239.5,168.4 240.0,168.4 240.5,168.4 241.0,168.3 241.5,168.3 242.0,168.2 242.5,168.1 243.0,168.1 243.5,168.0 244.0,168.0 244.5,167.9 245.0,167.8 245.5,167.7 246.0,167.7 246.5,167.6 247.0,167.5 247.5,167.4 248.0,167.4 248.5,167.3 249.0,167.2 249.5,167.1 250.0,167.0 250.5,166.9 251.0,166.8 251.5,166.7 252.0,166.6 252.5,166.5 253.0,166.4 253.5,166.2 254.0,166.1 254.5,166.0 255.0,165.8 255.5,165.7 256.0,165.6 256.5,165.4 257.0,165.3 257.5,165.1 258.0,165.0 258.5,164.9 259.0,164.7 259.5,164.5 260.0,164.4 260.5,164.2 261.0,164.0 261.5,163.8 262.0,163.7 262.5,163.5 263.0,163.3 263.5,163.2 264.0,163.0 264.5,162.8 265.0,162.7 265.5,162.6 266.0,162.4 266.5,162.3 267.0,162.2 267.5,162.0 268.0,161.9 268.5,161.7 269.0,161.6 269.5,161.4 270.0,161.2 270.5,161.0 271.0,160.8 271.5,160.5 272.0,160.3 272.5,160.0 273.0,159.8 273.5,159.5 274.0,159.2 274.5,158.9 275.0,158.6 275.5,158.3 276.0,158.0 276.5,157.7 277.0,157.4 277.5,157.1 278.0,156.7 278.5,156.4 279.0,156.0 279.5,155.7 280.0,155.3 280.5,155.0 281.0,154.6 281.5,154.3 282.0,154.0 282.5,153.7 283.0,153.4 283.5,153.1 284.0,152.8 284.5,152.4 285.0,152.1 285.5,151.8 286.0,151.6 286.5,151.3 287.0,151.0 287.5,150.7 288.0,150.5 288.5,150.2 289.0,150.0 289.5,149.7 290.0,149.4 290.5,149.2 291.0,148.9 291.5,148.7 292.0,148.5 292.5,148.4 293.0,148.3 293.5,148.3 294.0,148.3 294.5,148.3 295.0,148.3 295.5,148.3 296.0,148.3 296.5,148.3 297.0,148.3 297.5,148.3 298.0,148.3 298.5,148.3 299.0,148.3 299.5,148.3 300.0,148.3 300.5,148.3 301.0,148.3 301.5,148.4 302.0,148.4 302.5,148.4 303.0,148.5 303.5,148.6 304.0,148.6 304.5,148.7 305.0,148.8 305.5,148.8 306.0,148.9 306.5,149.0 307.0,149.0 307.5,149.1 308.0,149.1 308.5,149.2 309.0,149.2 309.5,149.3 310.0,149.3 310.5,149.3 311.0,149.3 311.5,149.4 312.0,149.4 312.5,149.4 313.0,149.4 313.5,149.4 314.0,149.4 314.5,149.5 315.0,149.5 315.5,149.5 316.0,149.5 316.5,149.5 317.0,149.5 317.5,149.5 318.0,149.5 318.5,149.5 319.0,149.5 319.5,149.5 320.0,149.4 320.5,149.4 321.0,149.4 321.5,149.3 322.0,149.3 322.5,149.2 323.0,149.2 323.5,149.2 324.0,149.1 324.5,149.1 325.0,149.1 325.5,149.0 326.0,149.0 326.5,149.0 327.0,149.0 327.5,149.0 328.0,149.0 328.5,149.0 329.0,149.1 329.5,149.1 330.0,149.1 330.5,149.2 331.0,149.2 331.5,149.2 332.0,149.3 332.5,149.3 333.0,149.4 333.5,149.5 334.0,149.6 334.5,149.8 335.0,150.0 335.5,150.2 336.0,150.4 336.5,150.7 337.0,151.0 337.5,151.3 338.0,151.6 338.5,151.8 339.0,152.1 339.5,152.4 340.0,152.6 340.5,152.8 341.0,153.0 341.5,153.3 342.0,153.5 342.5,153.7 343.0,153.8 343.5,154.0 344.0,154.2 344.5,154.4 345.0,154.6 345.5,154.8 346.0,155.0 346.5,155.2 347.0,155.4 347.5,155.5 348.0,155.7 348.5,155.9 349.0,156.1 349.5,156.2 350.0,156.4 350.5,156.6 351.0,156.8 351.5,156.9 352.0,157.1 352.5,157.3 353.0,157.5 353.5,157.6 354.0,157.8 354.5,158.0 355.0,158.2 355.5,158.3 356.0,158.5 356.5,158.6 357.0,158.8 357.5,159.0 358.0,159.1 358.5,159.3 359.0,159.4 359.5,159.6 360.0,159.7 360.5,159.9 361.0,160.0 361.5,160.2 362.0,160.3 362.5,160.4 363.0,160.6 363.5,160.7 364.0,160.8 364.5,160.9 365.0,161.1 365.5,161.2 366.0,161.3 366.5,161.4 367.0,161.5 367.5,161.7 368.0,161.8 368.5,161.9 369.0,162.0 369.5,162.1 370.0,162.3 370.5,162.4 371.0,162.5 371.5,162.6 372.0,162.7 372.5,162.8 373.0,163.0 373.5,163.1 374.0,163.2 374.5,163.3 375.0,163.4 375.5,163.5 376.0,163.6 376.5,163.8 377.0,163.9 377.5,164.0 378.0,164.1 378.5,164.2 379.0,164.3 379.5,164.4 380.0,164.5 380.5,164.6 381.0,164.7 381.5,164.8 382.0,165.0 382.5,165.1 382.7,165.1"/>
<polyline class="fm" points="221.0,186.4 221.5,186.4 222.0,186.4 222.5,186.4 223.0,186.4 223.5,186.4 224.0,186.4 224.5,186.3 225.0,186.3 225.5,186.3 226.0,186.3 226.5,186.3 227.0,186.3 227.5,186.3 228.0,186.3 228.5,186.2 229.0,186.2 229.5,186.2 230.0,186.2 230.5,186.2 231.0,186.2 231.5,186.1 232.0,186.1 232.5,186.1 233.0,186.1 233.5,186.1 234.0,186.0 234.5,186.0 235.0,186.0 235.5,186.0 236.0,186.0 236.5,185.9 237.0,185.9 237.5,185.9 238.0,185.9 238.5,185.8 239.0,185.8 239.5,185.8 240.0,185.8 240.5,185.7 241.0,185.7 241.5,185.7 242.0,185.6 242.5,185.6 243.0,185.6 243.5,185.5 244.0,185.5 244.5,185.4 245.0,185.4 245.5,185.4 246.0,185.3 246.5,185.2 247.0,185.2 247.5,185.1 248.0,185.0 248.5,184.9 249.0,184.9 249.5,184.8 250.0,184.7 250.5,184.6 251.0,184.5 251.5,184.4 252.0,184.3 252.5,184.2 253.0,184.0 253.5,183.9 254.0,183.8 254.5,183.7 255.0,183.6 255.5,183.5 256.0,183.4 256.5,183.2 257.0,183.1 257.5,183.0 258.0,182.8 258.5,182.7 259.0,182.5 259.5,182.4 260.0,182.2 260.5,182.1 261.0,181.9 261.5,181.8 262.0,181.6 262.5,181.4 263.0,181.3 263.5,181.1 264.0,180.9 264.5,180.8 265.0,180.6 265.5,180.4 266.0,180.3 266.5,180.1 267.0,179.9 267.5,179.8 268.0,179.6 268.5,179.4 269.0,179.3 269.5,179.1 270.0,178.9 270.5,178.7 271.0,178.5 271.5,178.4 272.0,178.2 272.5,178.0 273.0,177.8 273.5,177.6 274.0,177.4 274.5,177.2 275.0,177.0 275.5,176.8 276.0,176.6 276.5,176.4 277.0,176.1 277.5,175.9 278.0,175.6 278.5,175.4 279.0,175.2 279.5,174.9 280.0,174.7 280.5,174.4 281.0,174.2 281.5,173.9 282.0,173.7 282.5,173.4 283.0,173.2 283.5,172.9 284.0,172.7 284.5,172.4 285.0,172.2 285.5,172.0 286.0,171.7 286.5,171.5 287.0,171.2 287.5,171.0 288.0,170.7 288.5,170.5 289.0,170.2 289.5,170.0 290.0,169.7 290.5,169.5 291.0,169.3 291.5,169.1 292.0,168.9 292.5,168.7 293.0,168.5 293.5,168.3 294.0,168.2 294.5,168.0 295.0,167.9 295.5,167.8 296.0,167.7 296.5,167.6 297.0,167.5 297.5,167.4 298.0,167.3 298.5,167.2 299.0,167.1 299.5,167.0 300.0,166.9 300.5,166.9 301.0,166.8 301.5,166.7 302.0,166.7 302.5,166.6 303.0,166.5 303.5,166.5 304.0,166.4 304.5,166.4 305.0,166.3 305.5,166.2 306.0,166.2 306.5,166.1 307.0,166.1 307.5,166.0 308.0,166.0 308.5,165.9 309.0,165.9 309.5,165.8 310.0,165.8 310.5,165.7 311.0,165.7 311.5,165.6 312.0,165.6 312.5,165.6 313.0,165.5 313.5,165.5 314.0,165.5 314.5,165.5 315.0,165.5 315.5,165.5 316.0,165.5 316.5,165.6 317.0,165.6 317.5,165.7 318.0,165.8 318.5,165.8 319.0,165.9 319.5,166.0 320.0,166.1 320.5,166.3 321.0,166.4 321.5,166.5 322.0,166.6 322.5,166.8 323.0,166.9 323.5,167.0 324.0,167.2 324.5,167.3 325.0,167.4 325.5,167.5 326.0,167.6 326.5,167.8 327.0,167.9 327.5,168.0 328.0,168.2 328.5,168.3 329.0,168.5 329.5,168.6 330.0,168.8 330.5,168.9 331.0,169.1 331.5,169.2 332.0,169.4 332.5,169.5 333.0,169.7 333.5,169.8 334.0,170.0 334.5,170.1 335.0,170.3 335.5,170.4 336.0,170.6 336.5,170.7 337.0,170.8 337.5,171.0 338.0,171.1 338.5,171.2 339.0,171.4 339.5,171.5 340.0,171.6 340.5,171.8 341.0,171.9 341.5,172.0 342.0,172.2 342.5,172.3 343.0,172.4 343.5,172.5 344.0,172.7 344.5,172.8 345.0,172.9 345.5,173.1 346.0,173.2 346.5,173.3 347.0,173.4 347.5,173.6 348.0,173.7 348.5,173.8 349.0,174.0 349.5,174.1 350.0,174.2 350.5,174.4 351.0,174.5 351.5,174.6 352.0,174.8 352.5,174.9 353.0,175.0 353.5,175.2 354.0,175.3 354.5,175.4 355.0,175.6 355.5,175.7 356.0,175.8 356.5,175.9 357.0,176.1 357.5,176.2 358.0,176.3 358.5,176.5 359.0,176.6 359.5,176.7 360.0,176.8 360.5,177.0 361.0,177.1 361.5,177.2 362.0,177.4 362.5,177.5 363.0,177.6 363.5,177.7 364.0,177.9 364.5,178.0 365.0,178.1 365.5,178.3 366.0,178.4 366.5,178.5 367.0,178.6 367.5,178.8 368.0,178.9 368.5,179.0 369.0,179.1 369.5,179.2 370.0,179.4 370.5,179.5 371.0,179.6 371.5,179.7 372.0,179.8 372.5,179.9 373.0,180.0 373.5,180.1 374.0,180.2 374.5,180.3 375.0,180.4 375.5,180.5 376.0,180.6 376.5,180.6 377.0,180.7 377.5,180.8 378.0,180.9 378.5,181.0 379.0,181.1 379.5,181.1 380.0,181.2 380.5,181.3 381.0,181.4 381.5,181.4 382.0,181.5 382.5,181.6 382.7,181.6"/>
<polyline class="fm" points="221.0,198.2 221.5,198.2 222.0,198.2 222.5,198.2 223.0,198.2 223.5,198.2 224.0,198.2 224.5,198.2 225.0,198.2 225.5,198.2 226.0,198.2 226.5,198.2 227.0,198.2 227.5,198.1 228.0,198.1 228.5,198.1 229.0,198.1 229.5,198.1 230.0,198.1 230.5,198.1 231.0,198.1 231.5,198.1 232.0,198.1 232.5,198.1 233.0,198.0 233.5,198.0 234.0,198.0 234.5,198.0 235.0,198.0 235.5,198.0 236.0,198.0 236.5,198.0 237.0,197.9 237.5,197.9 238.0,197.9 238.5,197.9 239.0,197.9 239.5,197.9 240.0,197.8 240.5,197.8 241.0,197.8 241.5,197.8 242.0,197.8 242.5,197.7 243.0,197.7 243.5,197.7 244.0,197.7 244.5,197.6 245.0,197.6 245.5,197.6 246.0,197.5 246.5,197.5 247.0,197.4 247.5,197.4 248.0,197.4 248.5,197.3 249.0,197.2 249.5,197.2 250.0,197.1 250.5,197.1 251.0,197.0 251.5,196.9 252.0,196.9 252.5,196.8 253.0,196.7 253.5,196.6 254.0,196.6 254.5,196.5 255.0,196.4 255.5,196.3 256.0,196.2 256.5,196.1 257.0,196.0 257.5,195.9 258.0,195.8 258.5,195.7 259.0,195.6 259.5,195.5 260.0,195.3 260.5,195.2 261.0,195.1 261.5,194.9 262.0,194.8 262.5,194.7 263.0,194.5 263.5,194.4 264.0,194.3 264.5,194.1 265.0,194.0 265.5,193.9 266.0,193.7 266.5,193.6 267.0,193.4 267.5,193.3 268.0,193.2 268.5,193.0 269.0,192.9 269.5,192.7 270.0,192.6 270.5,192.4 271.0,192.3 271.5,192.1 272.0,191.9 272.5,191.8 273.0,191.6 273.5,191.5 274.0,191.3 274.5,191.2 275.0,191.0 275.5,190.8 276.0,190.7 276.5,190.5 277.0,190.3 277.5,190.2 278.0,190.0 278.5,189.8 279.0,189.6 279.5,189.5 280.0,189.3 280.5,189.1 281.0,188.9 281.5,188.8 282.0,188.6 282.5,188.4 283.0,188.2 283.5,188.1 284.0,187.9 284.5,187.8 285.0,187.6 285.5,187.4 286.0,187.3 286.5,187.1 287.0,187.0 287.5,186.8 288.0,186.6 288.5,186.5 289.0,186.3 289.5,186.2 290.0,186.0 290.5,185.9 291.0,185.7 291.5,185.6 292.0,185.4 292.5,185.3 293.0,185.2 293.5,185.0 294.0,184.9 294.5,184.8 295.0,184.7 295.5,184.6 296.0,184.5 296.5,184.4 297.0,184.3 297.5,184.2 298.0,184.1 298.5,184.0 299.0,183.9 299.5,183.9 300.0,183.8 300.5,183.7 301.0,183.6 301.5,183.6 302.0,183.5 302.5,183.4 303.0,183.4 303.5,183.3 304.0,183.3 304.5,183.2 305.0,183.2 305.5,183.2 306.0,183.1 306.5,183.1 307.0,183.1 307.5,183.0 308.0,183.0 308.5,182.9 309.0,182.9 309.5,182.9 310.0,182.9 310.5,182.8 311.0,182.8 311.5,182.8 312.0,182.8 312.5,182.7 313.0,182.7 313.5,182.7 314.0,182.7 314.5,182.7 315.0,182.7 315.5,182.7 316.0,182.7 316.5,182.7 317.0,182.8 317.5,182.8 318.0,182.9 318.5,182.9 319.0,183.0 319.5,183.1 320.0,183.2 320.5,183.2 321.0,183.3 321.5,183.4 322.0,183.5 322.5,183.6 323.0,183.7 323.5,183.8 324.0,183.9 324.5,183.9 325.0,184.0 325.5,184.1 326.0,184.2 326.5,184.3 327.0,184.4 327.5,184.5 328.0,184.6 328.5,184.8 329.0,184.9 329.5,185.0 330.0,185.1 330.5,185.2 331.0,185.4 331.5,185.5 332.0,185.6 332.5,185.7 333.0,185.9 333.5,186.0 334.0,186.1 334.5,186.3 335.0,186.4 335.5,186.5 336.0,186.7 336.5,186.8 337.0,187.0 337.5,187.1 338.0,187.2 338.5,187.4 339.0,187.5 339.5,187.7 340.0,187.9 340.5,188.0 341.0,188.2 341.5,188.3 342.0,188.5 342.5,188.6 343.0,188.8 343.5,188.9 344.0,189.1 344.5,189.2 345.0,189.4 345.5,189.5 346.0,189.7 346.5,189.8 347.0,189.9 347.5,190.1 348.0,190.2 348.5,190.3 349.0,190.4 349.5,190.6 350.0,190.7 350.5,190.8 351.0,190.9 351.5,191.0 352.0,191.1 352.5,191.2 353.0,191.3 353.5,191.4 354.0,191.5 354.5,191.6 355.0,191.7 355.5,191.8 356.0,191.9 356.5,192.0 357.0,192.1 357.5,192.2 358.0,192.3 358.5,192.4 359.0,192.5 359.5,192.6 360.0,192.7 360.5,192.8 361.0,192.9 361.5,193.0 362.0,193.1 362.5,193.2 363.0,193.3 363.5,193.4 364.0,193.5 364.5,193.6 365.0,193.8 365.5,193.9 366.0,194.0 366.5,194.1 367.0,194.2 367.5,194.3 368.0,194.4 368.5,194.5 369.0,194.6 369.5,194.7 370.0,194.8 370.5,194.9 371.0,195.0 371.5,195.0 372.0,195.1 372.5,195.2 373.0,195.3 373.5,195.4 374.0,195.5 374.5,195.5 375.0,195.6 375.5,195.7 376.0,195.8 376.5,195.8 377.0,195.9 377.5,196.0 378.0,196.0 378.5,196.1 379.0,196.2 379.5,196.2 380.0,196.3 380.5,196.4 381.0,196.4 381.5,196.5 382.0,196.5 382.5,196.6 382.7,196.6"/>
<polyline class="fm" points="221.0,208.4 221.5,208.4 222.0,208.4 222.5,208.4 223.0,208.4 223.5,208.4 224.0,208.4 224.5,208.3 225.0,208.3 225.5,208.3 226.0,208.3 226.5,208.3 227.0,208.3 227.5,208.3 228.0,208.3 228.5,208.2 229.0,208.2 229.5,208.2 230.0,208.2 230.5,208.2 231.0,208.2 231.5,208.1 232.0,208.1 232.5,208.1 233.0,208.1 233.5,208.1 234.0,208.0 234.5,208.0 235.0,208.0 235.5,208.0 236.0,208.0 236.5,207.9 237.0,207.9 237.5,207.9 238.0,207.9 238.5,207.8 239.0,207.8 239.5,207.8 240.0,207.7 240.5,207.7 241.0,207.7 241.5,207.6 242.0,207.6 242.5,207.6 243.0,207.5 243.5,207.5 244.0,207.5 244.5,207.4 245.0,207.4 245.5,207.4 246.0,207.3 246.5,207.3 247.0,207.2 247.5,207.2 248.0,207.2 248.5,207.1 249.0,207.1 249.5,207.0 250.0,207.0 250.5,206.9 251.0,206.9 251.5,206.8 252.0,206.8 252.5,206.7 253.0,206.7 253.5,206.6 254.0,206.5 254.5,206.5 255.0,206.4 255.5,206.3 256.0,206.3 256.5,206.2 257.0,206.1 257.5,206.0 258.0,205.9 258.5,205.8 259.0,205.7 259.5,205.6 260.0,205.5 260.5,205.4 261.0,205.3 261.5,205.2 262.0,205.1 262.5,205.0 263.0,204.8 263.5,204.7 264.0,204.6 264.5,204.5 265.0,204.4 265.5,204.3 266.0,204.2 266.5,204.1 267.0,203.9 267.5,203.8 268.0,203.7 268.5,203.6 269.0,203.5 269.5,203.3 270.0,203.2 270.5,203.1 271.0,203.0 271.5,202.8 272.0,202.7 272.5,202.6 273.0,202.5 273.5,202.4 274.0,202.2 274.5,202.1 275.0,202.0 275.5,201.9 276.0,201.8 276.5,201.7 277.0,201.5 277.5,201.4 278.0,201.3 278.5,201.2 279.0,201.1 279.5,201.0 280.0,200.9 280.5,200.7 281.0,200.6 281.5,200.5 282.0,200.4 282.5,200.3 283.0,200.2 283.5,200.1 284.0,200.0 284.5,199.9 285.0,199.8 285.5,199.7 286.0,199.6 286.5,199.5 287.0,199.4 287.5,199.3 288.0,199.3 288.5,199.2 289.0,199.1 289.5,199.0 290.0,198.9 290.5,198.8 291.0,198.7 291.5,198.7 292.0,198.6 292.5,198.5 293.0,198.4 293.5,198.3 294.0,198.3 294.5,198.2 295.0,198.1 295.5,198.0 296.0,197.9 296.5,197.8 297.0,197.8 297.5,197.7 298.0,197.6 298.5,197.5 299.0,197.4 299.5,197.4 300.0,197.3 300.5,197.2 301.0,197.1 301.5,197.0 302.0,196.9 302.5,196.9 303.0,196.8 303.5,196.7 304.0,196.6 304.5,196.6 305.0,196.5 305.5,196.4 306.0,196.4 306.5,196.3 307.0,196.2 307.5,196.1 308.0,196.0 308.5,196.0 309.0,195.9 309.5,195.8 310.0,195.7 310.5,195.7 311.0,195.6 311.5,195.5 312.0,195.5 312.5,195.4 313.0,195.4 313.5,195.3 314.0,195.3 314.5,195.3 315.0,195.3 315.5,195.3 316.0,195.3 316.5,195.3 317.0,195.3 317.5,195.4 318.0,195.4 318.5,195.4 319.0,195.5 319.5,195.5 320.0,195.6 320.5,195.6 321.0,195.7 321.5,195.7 322.0,195.8 322.5,195.8 323.0,195.9 323.5,195.9 324.0,196.0 324.5,196.1 325.0,196.1 325.5,196.2 326.0,196.4 326.5,196.5 327.0,196.6 327.5,196.7 328.0,196.9 328.5,197.0 329.0,197.2 329.5,197.3 330.0,197.5 330.5,197.7 331.0,197.8 331.5,198.0 332.0,198.2 332.5,198.3 333.0,198.5 333.5,198.6 334.0,198.7 334.5,198.9 335.0,199.0 335.5,199.1 336.0,199.2 336.5,199.3 337.0,199.5 337.5,199.6 338.0,199.7 338.5,199.8 339.0,199.9 339.5,200.0 340.0,200.1 340.5,200.2 341.0,200.3 341.5,200.4 342.0,200.5 342.5,200.6 343.0,200.7 343.5,200.8 344.0,200.9 344.5,201.0 345.0,201.1 345.5,201.2 346.0,201.3 346.5,201.3 347.0,201.4 347.5,201.5 348.0,201.6 348.5,201.7 349.0,201.8 349.5,201.8 350.0,201.9 350.5,202.0 351.0,202.1 351.5,202.2 352.0,202.2 352.5,202.3 353.0,202.4 353.5,202.5 354.0,202.5 354.5,202.6 355.0,202.7 355.5,202.7 356.0,202.8 356.5,202.9 357.0,202.9 357.5,203.0 358.0,203.1 358.5,203.1 359.0,203.2 359.5,203.2 360.0,203.3 360.5,203.4 361.0,203.4 361.5,203.5 362.0,203.5 362.5,203.6 363.0,203.6 363.5,203.7 364.0,203.7 364.5,203.8 365.0,203.8 365.5,203.9 366.0,203.9 366.5,204.0 367.0,204.0 367.5,204.1 368.0,204.1 368.5,204.2 369.0,204.2 369.5,204.3 370.0,204.3 370.5,204.4 371.0,204.4 371.5,204.5 372.0,204.5 372.5,204.6 373.0,204.6 373.5,204.6 374.0,204.7 374.5,204.7 375.0,204.8 375.5,204.8 376.0,204.9 376.5,204.9 377.0,204.9 377.5,205.0 378.0,205.0 378.5,205.1 379.0,205.1 379.5,205.2 380.0,205.2 380.5,205.2 381.0,205.3 381.5,205.3 382.0,205.3 382.5,205.4 382.7,205.4"/>
<polyline class="fm" points="221.0,222.0 221.5,222.0 222.0,222.0 222.5,222.0 223.0,222.0 223.5,222.0 224.0,222.0 224.5,222.0 225.0,222.0 225.5,222.0 226.0,221.9 226.5,221.9 227.0,221.9 227.5,221.9 228.0,221.9 228.5,221.9 229.0,221.9 229.5,221.8 230.0,221.8 230.5,221.8 231.0,221.8 231.5,221.8 232.0,221.8 232.5,221.7 233.0,221.7 233.5,221.7 234.0,221.7 234.5,221.7 235.0,221.6 235.5,221.6 236.0,221.6 236.5,221.6 237.0,221.5 237.5,221.5 238.0,221.5 238.5,221.5 239.0,221.4 239.5,221.4 240.0,221.4 240.5,221.4 241.0,221.3 241.5,221.3 242.0,221.3 242.5,221.3 243.0,221.2 243.5,221.2 244.0,221.1 244.5,221.1 245.0,221.1 245.5,221.0 246.0,221.0 246.5,220.9 247.0,220.9 247.5,220.8 248.0,220.8 248.5,220.7 249.0,220.7 249.5,220.6 250.0,220.6 250.5,220.5 251.0,220.5 251.5,220.4 252.0,220.4 252.5,220.3 253.0,220.2 253.5,220.2 254.0,220.1 254.5,220.1 255.0,220.0 255.5,219.9 256.0,219.9 256.5,219.8 257.0,219.7 257.5,219.7 258.0,219.6 258.5,219.5 259.0,219.4 259.5,219.4 260.0,219.3 260.5,219.2 261.0,219.1 261.5,219.0 262.0,218.9 262.5,218.8 263.0,218.7 263.5,218.6 264.0,218.6 264.5,218.5 265.0,218.4 265.5,218.3 266.0,218.2 266.5,218.1 267.0,218.0 267.5,217.9 268.0,217.8 268.5,217.7 269.0,217.6 269.5,217.5 270.0,217.4 270.5,217.3 271.0,217.2 271.5,217.1 272.0,217.0 272.5,216.9 273.0,216.8 273.5,216.7 274.0,216.6 274.5,216.5 275.0,216.3 275.5,216.2 276.0,216.1 276.5,216.0 277.0,215.9 277.5,215.8 278.0,215.7 278.5,215.5 279.0,215.4 279.5,215.3 280.0,215.2 280.5,215.1 281.0,215.0 281.5,214.9 282.0,214.8 282.5,214.7 283.0,214.6 283.5,214.5 284.0,214.4 284.5,214.3 285.0,214.2 285.5,214.1 286.0,214.0 286.5,213.9 287.0,213.8 287.5,213.8 288.0,213.7 288.5,213.6 289.0,213.5 289.5,213.4 290.0,213.3 290.5,213.2 291.0,213.2 291.5,213.1 292.0,213.0 292.5,212.9 293.0,212.9 293.5,212.8 294.0,212.7 294.5,212.6 295.0,212.6 295.5,212.5 296.0,212.4 296.5,212.3 297.0,212.3 297.5,212.2 298.0,212.2 298.5,212.1 299.0,212.0 299.5,212.0 300.0,211.9 300.5,211.9 301.0,211.8 301.5,211.8 302.0,211.7 302.5,211.7 303.0,211.7 303.5,211.6 304.0,211.6 304.5,211.5 305.0,211.5 305.5,211.5 306.0,211.4 306.5,211.4 307.0,211.4 307.5,211.3 308.0,211.3 308.5,211.3 309.0,211.3 309.5,211.2 310.0,211.2 310.5,211.2 311.0,211.1 311.5,211.1 312.0,211.1 312.5,211.1 313.0,211.0 313.5,211.0 314.0,211.0 314.5,211.0 315.0,210.9 315.5,210.9 316.0,210.9 316.5,210.9 317.0,210.9 317.5,210.8 318.0,210.8 318.5,210.8 319.0,210.8 319.5,210.8 320.0,210.7 320.5,210.7 321.0,210.7 321.5,210.7 322.0,210.7 322.5,210.7 323.0,210.7 323.5,210.8 324.0,210.8 324.5,210.9 325.0,211.0 325.5,211.1 326.0,211.1 326.5,211.2 327.0,211.3 327.5,211.4 328.0,211.5 328.5,211.6 329.0,211.7 329.5,211.8 330.0,211.9 330.5,212.0 331.0,212.1 331.5,212.2 332.0,212.3 332.5,212.4 333.0,212.5 333.5,212.6 334.0,212.7 334.5,212.8 335.0,212.9 335.5,213.0 336.0,213.1 336.5,213.2 337.0,213.2 337.5,213.3 338.0,213.4 338.5,213.5 339.0,213.6 339.5,213.6 340.0,213.7 340.5,213.8 341.0,213.9 341.5,213.9 342.0,214.0 342.5,214.1 343.0,214.2 343.5,214.2 344.0,214.3 344.5,214.4 345.0,214.5 345.5,214.5 346.0,214.6 346.5,214.7 347.0,214.7 347.5,214.8 348.0,214.9 348.5,215.0 349.0,215.1 349.5,215.1 350.0,215.2 350.5,215.3 351.0,215.4 351.5,215.4 352.0,215.5 352.5,215.6 353.0,215.7 353.5,215.7 354.0,215.8 354.5,215.9 355.0,216.0 355.5,216.0 356.0,216.1 356.5,216.2 357.0,216.3 357.5,216.3 358.0,216.4 358.5,216.5 359.0,216.6 359.5,216.6 360.0,216.7 360.5,216.8 361.0,216.8 361.5,216.9 362.0,217.0 362.5,217.1 363.0,217.1 363.5,217.2 364.0,217.3 364.5,217.3 365.0,217.4 365.5,217.5 366.0,217.5 366.5,217.6 367.0,217.7 367.5,217.7 368.0,217.8 368.5,217.9 369.0,217.9 369.5,218.0 370.0,218.1 370.5,218.1 371.0,218.2 371.5,218.2 372.0,218.3 372.5,218.3 373.0,218.4 373.5,218.5 374.0,218.5 374.5,218.6 375.0,218.6 375.5,218.7 376.0,218.7 376.5,218.8 377.0,218.8 377.5,218.9 378.0,218.9 378.5,218.9 379.0,219.0 379.5,219.0 380.0,219.1 380.5,219.1 381.0,219.2 381.5,219.2 382.0,219.2 382.5,219.3 382.7,219.3"/>
<polyline class="fm" points="221.0,231.6 221.5,231.6 222.0,231.6 222.5,231.6 223.0,231.6 223.5,231.6 224.0,231.6 224.5,231.6 225.0,231.6 225.5,231.6 226.0,231.6 226.5,231.6 227.0,231.6 227.5,231.6 228.0,231.6 228.5,231.6 229.0,231.6 229.5,231.6 230.0,231.5 230.5,231.5 231.0,231.5 231.5,231.5 232.0,231.5 232.5,231.5 233.0,231.5 233.5,231.5 234.0,231.5 234.5,231.5 235.0,231.5 235.5,231.5 236.0,231.5 236.5,231.5 237.0,231.5 237.5,231.4 238.0,231.4 238.5,231.4 239.0,231.4 239.5,231.4 240.0,231.4 240.5,231.4 241.0,231.4 241.5,231.4 242.0,231.4 242.5,231.3 243.0,231.3 243.5,231.3 244.0,231.3 244.5,231.3 245.0,231.2 245.5,231.2 246.0,231.2 246.5,231.2 247.0,231.1 247.5,231.1 248.0,231.1 248.5,231.0 249.0,231.0 249.5,231.0 250.0,230.9 250.5,230.9 251.0,230.9 251.5,230.8 252.0,230.8 252.5,230.8 253.0,230.7 253.5,230.7 254.0,230.7 254.5,230.6 255.0,230.6 255.5,230.6 256.0,230.5 256.5,230.5 257.0,230.4 257.5,230.4 258.0,230.4 258.5,230.3 259.0,230.3 259.5,230.2 260.0,230.2 260.5,230.1 261.0,230.1 261.5,230.0 262.0,229.9 262.5,229.9 263.0,229.8 263.5,229.8 264.0,229.7 264.5,229.7 265.0,229.6 265.5,229.5 266.0,229.5 266.5,229.4 267.0,229.4 267.5,229.3 268.0,229.2 268.5,229.2 269.0,229.1 269.5,229.1 270.0,229.0 270.5,228.9 271.0,228.9 271.5,228.8 272.0,228.8 272.5,228.7 273.0,228.6 273.5,228.6 274.0,228.5 274.5,228.4 275.0,228.4 275.5,228.3 276.0,228.2 276.5,228.1 277.0,228.1 277.5,228.0 278.0,227.9 278.5,227.9 279.0,227.8 279.5,227.7 280.0,227.7 280.5,227.6 281.0,227.5 281.5,227.5 282.0,227.4 282.5,227.3 283.0,227.3 283.5,227.2 284.0,227.1 284.5,227.1 285.0,227.0 285.5,226.9 286.0,226.9 286.5,226.8 287.0,226.8 287.5,226.7 288.0,226.6 288.5,226.6 289.0,226.5 289.5,226.5 290.0,226.4 290.5,226.3 291.0,226.3 291.5,226.2 292.0,226.2 292.5,226.1 293.0,226.1 293.5,226.0 294.0,225.9 294.5,225.9 295.0,225.8 295.5,225.8 296.0,225.7 296.5,225.7 297.0,225.6 297.5,225.6 298.0,225.5 298.5,225.4 299.0,225.4 299.5,225.3 300.0,225.3 300.5,225.2 301.0,225.2 301.5,225.1 302.0,225.1 302.5,225.0 303.0,224.9 303.5,224.9 304.0,224.8 304.5,224.8 305.0,224.7 305.5,224.6 306.0,224.6 306.5,224.5 307.0,224.5 307.5,224.5 308.0,224.4 308.5,224.4 309.0,224.4 309.5,224.3 310.0,224.3 310.5,224.3 311.0,224.2 311.5,224.2 312.0,224.2 312.5,224.2 313.0,224.2 313.5,224.1 314.0,224.1 314.5,224.1 315.0,224.1 315.5,224.0 316.0,224.0 316.5,224.0 317.0,224.0 317.5,224.0 318.0,224.0 318.5,224.0 319.0,224.0 319.5,224.1 320.0,224.1 320.5,224.1 321.0,224.2 321.5,224.2 322.0,224.2 322.5,224.3 323.0,224.3 323.5,224.4 324.0,224.4 324.5,224.5 325.0,224.5 325.5,224.5 326.0,224.6 326.5,224.6 327.0,224.7 327.5,224.7 328.0,224.8 328.5,224.8 329.0,224.9 329.5,224.9 330.0,225.0 330.5,225.0 331.0,225.1 331.5,225.1 332.0,225.2 332.5,225.2 333.0,225.3 333.5,225.3 334.0,225.4 334.5,225.4 335.0,225.5 335.5,225.6 336.0,225.6 336.5,225.7 337.0,225.7 337.5,225.8 338.0,225.8 338.5,225.8 339.0,225.9 339.5,225.9 340.0,226.0 340.5,226.1 341.0,226.1 341.5,226.2 342.0,226.2 342.5,226.2 343.0,226.3 343.5,226.3 344.0,226.4 344.5,226.5 345.0,226.5 345.5,226.6 346.0,226.6 346.5,226.7 347.0,226.7 347.5,226.8 348.0,226.8 348.5,226.9 349.0,226.9 349.5,227.0 350.0,227.0 350.5,227.1 351.0,227.1 351.5,227.2 352.0,227.2 352.5,227.3 353.0,227.3 353.5,227.4 354.0,227.4 354.5,227.5 355.0,227.5 355.5,227.6 356.0,227.6 356.5,227.7 357.0,227.7 357.5,227.8 358.0,227.8 358.5,227.9 359.0,227.9 359.5,228.0 360.0,228.0 360.5,228.0 361.0,228.1 361.5,228.1 362.0,228.1 362.5,228.2 363.0,228.2 363.5,228.2 364.0,228.3 364.5,228.3 365.0,228.3 365.5,228.4 366.0,228.4 366.5,228.4 367.0,228.5 367.5,228.5 368.0,228.5 368.5,228.5 369.0,228.6 369.5,228.6 370.0,228.6 370.5,228.7 371.0,228.7 371.5,228.7 372.0,228.7 372.5,228.8 373.0,228.8 373.5,228.8 374.0,228.9 374.5,228.9 375.0,228.9 375.5,229.0 376.0,229.0 376.5,229.0 377.0,229.0 377.5,229.1 378.0,229.1 378.5,229.1 379.0,229.2 379.5,229.2 380.0,229.2 380.5,229.3 381.0,229.3 381.5,229.3 382.0,229.4 382.5,229.4 382.7,229.4"/>
<polyline class="pm" stroke-width="2.6" points="221.0,238.4 221.5,238.4 222.0,238.4 222.5,238.4 223.0,238.4 223.5,238.4 224.0,238.4 224.5,238.4 225.0,238.4 225.5,238.4 226.0,238.4 226.5,238.4 227.0,238.4 227.5,238.4 228.0,238.4 228.5,238.4 229.0,238.3 229.5,238.3 230.0,238.3 230.5,238.3 231.0,238.3 231.5,238.3 232.0,238.3 232.5,238.3 233.0,238.3 233.5,238.3 234.0,238.3 234.5,238.3 235.0,238.2 235.5,238.2 236.0,238.2 236.5,238.2 237.0,238.2 237.5,238.2 238.0,238.2 238.5,238.2 239.0,238.2 239.5,238.1 240.0,238.1 240.5,238.1 241.0,238.1 241.5,238.1 242.0,238.1 242.5,238.1 243.0,238.1 243.5,238.0 244.0,238.0 244.5,238.0 245.0,238.0 245.5,238.0 246.0,238.0 246.5,237.9 247.0,237.9 247.5,237.9 248.0,237.9 248.5,237.9 249.0,237.8 249.5,237.8 250.0,237.8 250.5,237.7 251.0,237.7 251.5,237.7 252.0,237.6 252.5,237.6 253.0,237.6 253.5,237.5 254.0,237.5 254.5,237.4 255.0,237.4 255.5,237.4 256.0,237.3 256.5,237.3 257.0,237.2 257.5,237.2 258.0,237.2 258.5,237.1 259.0,237.1 259.5,237.0 260.0,237.0 260.5,237.0 261.0,236.9 261.5,236.9 262.0,236.8 262.5,236.8 263.0,236.7 263.5,236.7 264.0,236.7 264.5,236.6 265.0,236.6 265.5,236.5 266.0,236.5 266.5,236.4 267.0,236.4 267.5,236.3 268.0,236.3 268.5,236.2 269.0,236.2 269.5,236.1 270.0,236.1 270.5,236.0 271.0,236.0 271.5,235.9 272.0,235.9 272.5,235.8 273.0,235.8 273.5,235.7 274.0,235.7 274.5,235.6 275.0,235.6 275.5,235.6 276.0,235.5 276.5,235.5 277.0,235.4 277.5,235.4 278.0,235.3 278.5,235.3 279.0,235.3 279.5,235.2 280.0,235.2 280.5,235.1 281.0,235.1 281.5,235.0 282.0,235.0 282.5,235.0 283.0,234.9 283.5,234.9 284.0,234.8 284.5,234.8 285.0,234.8 285.5,234.7 286.0,234.7 286.5,234.7 287.0,234.6 287.5,234.6 288.0,234.5 288.5,234.5 289.0,234.5 289.5,234.4 290.0,234.4 290.5,234.4 291.0,234.3 291.5,234.3 292.0,234.3 292.5,234.2 293.0,234.2 293.5,234.2 294.0,234.1 294.5,234.1 295.0,234.1 295.5,234.0 296.0,234.0 296.5,234.0 297.0,233.9 297.5,233.9 298.0,233.9 298.5,233.9 299.0,233.8 299.5,233.8 300.0,233.8 300.5,233.8 301.0,233.8 301.5,233.7 302.0,233.7 302.5,233.7 303.0,233.7 303.5,233.6 304.0,233.6 304.5,233.6 305.0,233.6 305.5,233.6 306.0,233.5 306.5,233.5 307.0,233.5 307.5,233.5 308.0,233.5 308.5,233.5 309.0,233.5 309.5,233.5 310.0,233.5 310.5,233.5 311.0,233.5 311.5,233.6 312.0,233.6 312.5,233.6 313.0,233.6 313.5,233.7 314.0,233.7 314.5,233.7 315.0,233.8 315.5,233.8 316.0,233.8 316.5,233.9 317.0,233.9 317.5,234.0 318.0,234.0 318.5,234.0 319.0,234.1 319.5,234.1 320.0,234.2 320.5,234.3 321.0,234.3 321.5,234.4 322.0,234.5 322.5,234.5 323.0,234.6 323.5,234.6 324.0,234.7 324.5,234.8 325.0,234.8 325.5,234.8 326.0,234.9 326.5,234.9 327.0,235.0 327.5,235.0 328.0,235.1 328.5,235.1 329.0,235.1 329.5,235.2 330.0,235.2 330.5,235.3 331.0,235.3 331.5,235.3 332.0,235.4 332.5,235.4 333.0,235.4 333.5,235.5 334.0,235.5 334.5,235.5 335.0,235.6 335.5,235.6 336.0,235.6 336.5,235.7 337.0,235.7 337.5,235.7 338.0,235.7 338.5,235.7 339.0,235.8 339.5,235.8 340.0,235.8 340.5,235.8 341.0,235.8 341.5,235.8 342.0,235.9 342.5,235.9 343.0,235.9 343.5,235.9 344.0,235.9 344.5,235.9 345.0,235.9 345.5,235.9 346.0,235.9 346.5,235.9 347.0,236.0 347.5,236.0 348.0,236.0 348.5,236.0 349.0,236.0 349.5,236.0 350.0,236.0 350.5,236.0 351.0,236.0 351.5,236.0 352.0,236.0 352.5,236.0 353.0,236.1 353.5,236.1 354.0,236.1 354.5,236.1 355.0,236.1 355.5,236.1 356.0,236.1 356.5,236.1 357.0,236.1 357.5,236.1 358.0,236.1 358.5,236.1 359.0,236.2 359.5,236.2 360.0,236.2 360.5,236.2 361.0,236.2 361.5,236.2 362.0,236.2 362.5,236.2 363.0,236.2 363.5,236.2 364.0,236.2 364.5,236.2 365.0,236.2 365.5,236.2 366.0,236.2 366.5,236.2 367.0,236.2 367.5,236.2 368.0,236.2 368.5,236.2 369.0,236.2 369.5,236.2 370.0,236.2 370.5,236.2 371.0,236.2 371.5,236.2 372.0,236.2 372.5,236.2 373.0,236.2 373.5,236.2 374.0,236.2 374.5,236.2 375.0,236.2 375.5,236.2 376.0,236.2 376.5,236.2 377.0,236.2 377.5,236.2 378.0,236.2 378.5,236.2 379.0,236.2 379.5,236.2 380.0,236.2 380.5,236.2 381.0,236.2 381.5,236.2 382.0,236.2 382.5,236.2 382.7,236.2"/>
</g>
<polyline class="rl" points="287.5,38.4 293.3,129.6 293.3,148.3 294.6,168.0 296.3,184.4 296.8,197.8 299.3,212.1 302.5,225.0 307.0,233.9 311.2,233.9 317.2,224.0 322.2,210.8 324.0,196.0 324.8,184.0 325.8,167.6 327.0,149.0 326.0,127.6 335.4,62.3"/>
<circle class="rd" cx="287.5" cy="38.4" r="2.7"/>
<circle class="rd" cx="293.3" cy="129.6" r="2.7"/>
<circle class="rd" cx="293.3" cy="148.3" r="2.7"/>
<circle class="rd" cx="294.6" cy="168" r="2.7"/>
<circle class="rd" cx="296.3" cy="184.4" r="2.7"/>
<circle class="rd" cx="296.8" cy="197.8" r="2.7"/>
<circle class="rd" cx="299.3" cy="212.1" r="2.7"/>
<circle class="rd" cx="302.5" cy="225" r="2.7"/>
<circle class="rd" cx="307" cy="233.9" r="2.7"/>
<circle class="rd" cx="311.2" cy="233.9" r="2.7"/>
<circle class="rd" cx="317.2" cy="224" r="2.7"/>
<circle class="rd" cx="322.2" cy="210.8" r="2.7"/>
<circle class="rd" cx="324" cy="196" r="2.7"/>
<circle class="rd" cx="324.8" cy="184" r="2.7"/>
<circle class="rd" cx="325.8" cy="167.6" r="2.7"/>
<circle class="rd" cx="327" cy="149" r="2.7"/>
<circle class="rd" cx="326" cy="127.6" r="2.7"/>
<circle class="rd" cx="335.4" cy="62.3" r="2.7"/>
<rect class="ax" x="50.2" y="1.7" width="161.4" height="242.7"/>
<rect class="ax" x="221.0" y="1.7" width="161.4" height="242.7"/>
<path class="tk" d="M44.7,244.4H50.2M46.9,215.6H50.2M44.7,187.0H50.2M46.9,158.4H50.2M44.7,129.8H50.2M46.9,101.3H50.2M44.7,72.7H50.2M46.9,44.1H50.2M44.7,15.5H50.2M382.4,244.2H387.4M382.4,217.2H385.4M382.4,190.2H387.4M382.4,163.1H385.4M382.4,136.1H387.4M382.4,109.0H385.4M382.4,81.9H387.4M382.4,54.9H385.4M382.4,27.8H387.4M50.2,244.4V247.6M77.1,244.4V249.6M103.9,244.4V247.6M130.8,244.4V249.6M157.6,244.4V247.6M184.4,244.4V249.6M211.3,244.4V247.6M221.0,244.4V247.6M247.8,244.4V249.6M274.7,244.4V247.6M301.6,244.4V249.6M328.4,244.4V247.6M355.2,244.4V249.6M382.1,244.4V247.6"/>
<text class="tl" x="41.8" y="191.3" text-anchor="end">2</text>
<text class="tl" x="41.8" y="134.1" text-anchor="end">4</text>
<text class="tl" x="41.8" y="77.0" text-anchor="end">6</text>
<text class="tl" x="41.8" y="19.8" text-anchor="end">8</text>
<text class="tl" x="390.4" y="247.7">0</text>
<text class="tl" x="390.4" y="194.5">2</text>
<text class="tl" x="390.4" y="140.4">4</text>
<text class="tl" x="390.4" y="86.2">6</text>
<text class="tl" x="390.4" y="32.1">8</text>
<text class="tl" x="77.4" y="262.5" text-anchor="middle">160</text>
<text class="tl" x="131.1" y="262.5" text-anchor="middle">170</text>
<text class="tl" x="184.8" y="262.5" text-anchor="middle">180</text>
<text class="tl" x="248.2" y="262.5" text-anchor="middle">140</text>
<text class="tl" x="301.9" y="262.5" text-anchor="middle">150</text>
<text class="tl" x="355.6" y="262.5" text-anchor="middle">160</text>
<text class="ti" x="149" y="21.3">LCMO</text>
<text class="ti" x="322.4" y="21.3">LSMO</text>
<path d="M151.4,35.6H175.8" fill="none" stroke="#0000ff" stroke-width="2.3" stroke-linecap="round" stroke-dasharray="1.2 3.4"/>
<path d="M150.4,49.3H178.20000000000002" fill="none" stroke="#000" stroke-width="2.4"/>
<path d="M326.4,35.6H350.79999999999995" fill="none" stroke="#0000ff" stroke-width="2.3" stroke-linecap="round" stroke-dasharray="1.2 3.4"/>
<path d="M325.4,49.3H353.2" fill="none" stroke="#000" stroke-width="2.4"/>
<text class="lg" x="181" y="39.3" style="fill:#0000ff">FM</text>
<text class="lg" x="181" y="53.2">PM</text>
<text class="lg" x="355.5" y="39.3" style="fill:#0000ff">FM</text>
<text class="lg" x="355.5" y="53.2">PM</text>
<path d="M182.8,128.1L179.6,120.4" stroke="#000" stroke-width="1" fill="none"/><path d="M177.5,115.2L181.6,119.6L177.7,121.2Z" fill="#000"/>
<text class="an" x="182.2" y="139.8" textLength="19.2" lengthAdjust="spacingAndGlyphs">6 K</text>
<path d="M174.8,190.5L167.0,193.7" stroke="#000" stroke-width="1" fill="none"/><path d="M161.8,195.8L166.2,191.7L167.8,195.6Z" fill="#000"/>
<text class="an" x="175.5" y="190.5" textLength="30.4" lengthAdjust="spacingAndGlyphs">160 K</text>
<path d="M360.0,111.0L364.7,104.5" stroke="#000" stroke-width="1" fill="none"/><path d="M368.0,100.0L366.4,105.8L363.0,103.3Z" fill="#000"/>
<text class="an" x="348.8" y="123.7" textLength="19" lengthAdjust="spacingAndGlyphs">6 K</text>
<text class="xl" x="101.0" y="285.4">ν</text>
<text class="xl" x="115.6" y="285.4">(cm</text>
<text x="144.2" y="276" style="font-size:8.2px;letter-spacing:0.6px">-1</text>
<text class="xl" x="153.3" y="285.4">)</text>
<text class="xl" x="267.8" y="285.4">ν</text>
<text class="xl" x="282.40000000000003" y="285.4">(cm</text>
<text x="311.0" y="276" style="font-size:8.2px;letter-spacing:0.6px">-1</text>
<text class="xl" x="320.1" y="285.4">)</text>
<g id="ylab" transform="translate(18.3,178) rotate(-90)">
<text class="al" transform="translate(-0.70,0) scale(1.05,1)">σ</text>
<text class="al" transform="translate(20.60,0.6) scale(1.07,1)">(</text>
<text class="al" transform="translate(28.60,0) scale(1.0,1)">1</text>
<text class="al" transform="translate(39.90,0) scale(0.93,1)">0</text>
<text class="sup" transform="translate(50.00,-10.4) scale(1.07,1)">3</text>
<text class="al" transform="translate(65.50,0) scale(1.07,1)" style="font-family:'Liberation Serif',serif">Ω</text>
<text class="sup" transform="translate(79.50,-10.4) scale(1.07,1)">−1</text>
<text class="al" transform="translate(91.00,0) scale(1.07,1)">cm</text>
<text class="sup" transform="translate(114.40,-10.6) scale(0.88,1)">−1</text>
<text class="al" transform="translate(126.50,0.8) scale(1.07,1)">)</text>
</g>
</svg>
</body></html>
